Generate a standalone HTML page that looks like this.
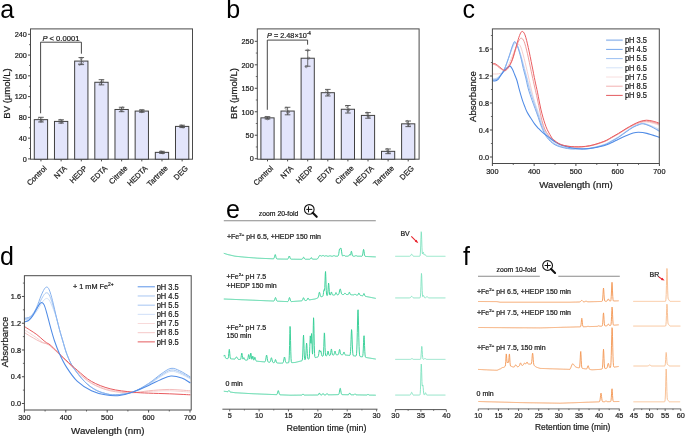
<!DOCTYPE html>
<html><head><meta charset="utf-8"><style>
html,body{margin:0;padding:0;background:#fff;overflow:hidden;width:685px;height:436px;}
svg{display:block;will-change:transform;}
text{font-family:"Liberation Sans", sans-serif;}
.sm{stroke:#1a1a1a;stroke-width:0.22px;}
</style></head><body>
<svg width="685" height="436" viewBox="0 0 685 436" font-family='"Liberation Sans", sans-serif'>
<rect x="0" y="0" width="685" height="436" fill="#fff"/>
<text x="0.3" y="17.7" font-size="25" text-anchor="start" fill="#000"  style="">a</text>
<text x="226.3" y="17.7" font-size="25" text-anchor="start" fill="#000"  style="">b</text>
<text x="462.6" y="17.8" font-size="25" text-anchor="start" fill="#000"  style="">c</text>
<text x="0" y="265.4" font-size="25" text-anchor="start" fill="#000"  style="">d</text>
<text x="226" y="217.9" font-size="25" text-anchor="start" fill="#000"  style="">e</text>
<text x="462.9" y="265.4" font-size="25" text-anchor="start" fill="#000"  style="">f</text>
<rect x="30.5" y="28.9" width="162" height="130.3" fill="none" stroke="#4a4a4a" stroke-width="1"/>
<line x1="28" y1="158.9" x2="30.5" y2="158.9" stroke="#4a4a4a" stroke-width="1" />
<text x="0" y="0" transform="translate(26.9 161.65) scale(1 1.1)" font-size="7.3" text-anchor="end" fill="#1e1e1e" class="sm"  style="">0</text>
<line x1="28" y1="138.13" x2="30.5" y2="138.13" stroke="#4a4a4a" stroke-width="1" />
<text x="0" y="0" transform="translate(26.9 140.88) scale(1 1.1)" font-size="7.3" text-anchor="end" fill="#1e1e1e" class="sm"  style="">40</text>
<line x1="28" y1="117.36" x2="30.5" y2="117.36" stroke="#4a4a4a" stroke-width="1" />
<text x="0" y="0" transform="translate(26.9 120.11) scale(1 1.1)" font-size="7.3" text-anchor="end" fill="#1e1e1e" class="sm"  style="">80</text>
<line x1="28" y1="96.6" x2="30.5" y2="96.6" stroke="#4a4a4a" stroke-width="1" />
<text x="0" y="0" transform="translate(26.9 99.35) scale(1 1.1)" font-size="7.3" text-anchor="end" fill="#1e1e1e" class="sm"  style="">120</text>
<line x1="28" y1="75.83" x2="30.5" y2="75.83" stroke="#4a4a4a" stroke-width="1" />
<text x="0" y="0" transform="translate(26.9 78.58) scale(1 1.1)" font-size="7.3" text-anchor="end" fill="#1e1e1e" class="sm"  style="">160</text>
<line x1="28" y1="55.06" x2="30.5" y2="55.06" stroke="#4a4a4a" stroke-width="1" />
<text x="0" y="0" transform="translate(26.9 57.81) scale(1 1.1)" font-size="7.3" text-anchor="end" fill="#1e1e1e" class="sm"  style="">200</text>
<line x1="28" y1="34.29" x2="30.5" y2="34.29" stroke="#4a4a4a" stroke-width="1" />
<text x="0" y="0" transform="translate(26.9 37.04) scale(1 1.1)" font-size="7.3" text-anchor="end" fill="#1e1e1e" class="sm"  style="">240</text>
<line x1="29" y1="148.52" x2="30.5" y2="148.52" stroke="#4a4a4a" stroke-width="0.8" />
<line x1="29" y1="127.75" x2="30.5" y2="127.75" stroke="#4a4a4a" stroke-width="0.8" />
<line x1="29" y1="106.98" x2="30.5" y2="106.98" stroke="#4a4a4a" stroke-width="0.8" />
<line x1="29" y1="86.21" x2="30.5" y2="86.21" stroke="#4a4a4a" stroke-width="0.8" />
<line x1="29" y1="65.44" x2="30.5" y2="65.44" stroke="#4a4a4a" stroke-width="0.8" />
<line x1="29" y1="44.68" x2="30.5" y2="44.68" stroke="#4a4a4a" stroke-width="0.8" />
<rect x="34.3" y="119.65" width="13.3" height="39.55" fill="#e3e5fb" stroke="#404040" stroke-width="1"/>
<line x1="40.95" y1="117.31" x2="40.95" y2="121.98" stroke="#3a3a3a" stroke-width="0.7" />
<line x1="38.15" y1="117.31" x2="43.75" y2="117.31" stroke="#3a3a3a" stroke-width="0.8" />
<line x1="38.15" y1="121.98" x2="43.75" y2="121.98" stroke="#3a3a3a" stroke-width="0.8" />
<circle cx="39.45" cy="118.61" r="1.1" fill="none" stroke="#555" stroke-width="0.55"/>
<circle cx="42.15" cy="120.17" r="1.1" fill="none" stroke="#555" stroke-width="0.55"/>
<circle cx="40.95" cy="121.21" r="1.1" fill="none" stroke="#555" stroke-width="0.55"/>
<line x1="40.95" y1="159.2" x2="40.95" y2="161.4" stroke="#4a4a4a" stroke-width="1" />
<text x="47.25" y="168.8" font-size="7.6" text-anchor="end" fill="#1e1e1e" class="sm" transform="rotate(-45 47.25 168.8)" style="">Control</text>
<rect x="54.47" y="121.41" width="13.3" height="37.79" fill="#e3e5fb" stroke="#404040" stroke-width="1"/>
<line x1="61.12" y1="119.75" x2="61.12" y2="123.08" stroke="#3a3a3a" stroke-width="0.7" />
<line x1="58.32" y1="119.75" x2="63.92" y2="119.75" stroke="#3a3a3a" stroke-width="0.8" />
<line x1="58.32" y1="123.08" x2="63.92" y2="123.08" stroke="#3a3a3a" stroke-width="0.8" />
<circle cx="60.12" cy="120.38" r="1.1" fill="none" stroke="#555" stroke-width="0.55"/>
<circle cx="62.12" cy="121.41" r="1.1" fill="none" stroke="#555" stroke-width="0.55"/>
<circle cx="61.12" cy="122.45" r="1.1" fill="none" stroke="#555" stroke-width="0.55"/>
<line x1="61.12" y1="159.2" x2="61.12" y2="161.4" stroke="#4a4a4a" stroke-width="1" />
<text x="67.42" y="168.8" font-size="7.6" text-anchor="end" fill="#1e1e1e" class="sm" transform="rotate(-45 67.42 168.8)" style="">NTA</text>
<rect x="74.64" y="61.08" width="13.3" height="98.12" fill="#e3e5fb" stroke="#404040" stroke-width="1"/>
<line x1="81.29" y1="57.55" x2="81.29" y2="64.61" stroke="#3a3a3a" stroke-width="0.7" />
<line x1="78.49" y1="57.55" x2="84.09" y2="57.55" stroke="#3a3a3a" stroke-width="0.8" />
<line x1="78.49" y1="64.61" x2="84.09" y2="64.61" stroke="#3a3a3a" stroke-width="0.8" />
<circle cx="79.59" cy="64.2" r="1.1" fill="none" stroke="#555" stroke-width="0.55"/>
<circle cx="81.29" cy="58.49" r="1.1" fill="none" stroke="#555" stroke-width="0.55"/>
<circle cx="82.29" cy="62.64" r="1.1" fill="none" stroke="#555" stroke-width="0.55"/>
<line x1="81.29" y1="159.2" x2="81.29" y2="161.4" stroke="#4a4a4a" stroke-width="1" />
<text x="87.59" y="168.8" font-size="7.6" text-anchor="end" fill="#1e1e1e" class="sm" transform="rotate(-45 87.59 168.8)" style="">HEDP</text>
<rect x="94.81" y="82.27" width="13.3" height="76.93" fill="#e3e5fb" stroke="#404040" stroke-width="1"/>
<line x1="101.46" y1="79.67" x2="101.46" y2="84.86" stroke="#3a3a3a" stroke-width="0.7" />
<line x1="98.66" y1="79.67" x2="104.26" y2="79.67" stroke="#3a3a3a" stroke-width="0.8" />
<line x1="98.66" y1="84.86" x2="104.26" y2="84.86" stroke="#3a3a3a" stroke-width="0.8" />
<circle cx="100.46" cy="83.82" r="1.1" fill="none" stroke="#555" stroke-width="0.55"/>
<circle cx="102.46" cy="81.23" r="1.1" fill="none" stroke="#555" stroke-width="0.55"/>
<circle cx="101.46" cy="82.27" r="1.1" fill="none" stroke="#555" stroke-width="0.55"/>
<line x1="101.46" y1="159.2" x2="101.46" y2="161.4" stroke="#4a4a4a" stroke-width="1" />
<text x="107.76" y="168.8" font-size="7.6" text-anchor="end" fill="#1e1e1e" class="sm" transform="rotate(-45 107.76 168.8)" style="">EDTA</text>
<rect x="114.98" y="109.47" width="13.3" height="49.73" fill="#e3e5fb" stroke="#404040" stroke-width="1"/>
<line x1="121.63" y1="107.24" x2="121.63" y2="111.7" stroke="#3a3a3a" stroke-width="0.7" />
<line x1="118.83" y1="107.24" x2="124.43" y2="107.24" stroke="#3a3a3a" stroke-width="0.8" />
<line x1="118.83" y1="111.7" x2="124.43" y2="111.7" stroke="#3a3a3a" stroke-width="0.8" />
<circle cx="120.63" cy="108.95" r="1.1" fill="none" stroke="#555" stroke-width="0.55"/>
<circle cx="122.63" cy="107.91" r="1.1" fill="none" stroke="#555" stroke-width="0.55"/>
<circle cx="121.63" cy="110.51" r="1.1" fill="none" stroke="#555" stroke-width="0.55"/>
<line x1="121.63" y1="159.2" x2="121.63" y2="161.4" stroke="#4a4a4a" stroke-width="1" />
<text x="127.93" y="168.8" font-size="7.6" text-anchor="end" fill="#1e1e1e" class="sm" transform="rotate(-45 127.93 168.8)" style="">Citrate</text>
<rect x="135.15" y="111.08" width="13.3" height="48.12" fill="#e3e5fb" stroke="#404040" stroke-width="1"/>
<line x1="141.8" y1="109.94" x2="141.8" y2="112.22" stroke="#3a3a3a" stroke-width="0.7" />
<line x1="139" y1="109.94" x2="144.6" y2="109.94" stroke="#3a3a3a" stroke-width="0.8" />
<line x1="139" y1="112.22" x2="144.6" y2="112.22" stroke="#3a3a3a" stroke-width="0.8" />
<circle cx="140.8" cy="110.56" r="1.1" fill="none" stroke="#555" stroke-width="0.55"/>
<circle cx="142.8" cy="110.56" r="1.1" fill="none" stroke="#555" stroke-width="0.55"/>
<circle cx="141.8" cy="111.6" r="1.1" fill="none" stroke="#555" stroke-width="0.55"/>
<line x1="141.8" y1="159.2" x2="141.8" y2="161.4" stroke="#4a4a4a" stroke-width="1" />
<text x="148.1" y="168.8" font-size="7.6" text-anchor="end" fill="#1e1e1e" class="sm" transform="rotate(-45 148.1 168.8)" style="">HEDTA</text>
<rect x="155.32" y="152.36" width="13.3" height="6.84" fill="#e3e5fb" stroke="#404040" stroke-width="1"/>
<line x1="161.97" y1="151.32" x2="161.97" y2="153.4" stroke="#3a3a3a" stroke-width="0.7" />
<line x1="159.17" y1="151.32" x2="164.77" y2="151.32" stroke="#3a3a3a" stroke-width="0.8" />
<line x1="159.17" y1="153.4" x2="164.77" y2="153.4" stroke="#3a3a3a" stroke-width="0.8" />
<circle cx="160.97" cy="151.84" r="1.1" fill="none" stroke="#555" stroke-width="0.55"/>
<circle cx="162.97" cy="152.88" r="1.1" fill="none" stroke="#555" stroke-width="0.55"/>
<circle cx="161.97" cy="152.36" r="1.1" fill="none" stroke="#555" stroke-width="0.55"/>
<line x1="161.97" y1="159.2" x2="161.97" y2="161.4" stroke="#4a4a4a" stroke-width="1" />
<text x="168.27" y="168.8" font-size="7.6" text-anchor="end" fill="#1e1e1e" class="sm" transform="rotate(-45 168.27 168.8)" style="">Tartrate</text>
<rect x="175.49" y="126.4" width="13.3" height="32.8" fill="#e3e5fb" stroke="#404040" stroke-width="1"/>
<line x1="182.14" y1="125.2" x2="182.14" y2="127.59" stroke="#3a3a3a" stroke-width="0.7" />
<line x1="179.34" y1="125.2" x2="184.94" y2="125.2" stroke="#3a3a3a" stroke-width="0.8" />
<line x1="179.34" y1="127.59" x2="184.94" y2="127.59" stroke="#3a3a3a" stroke-width="0.8" />
<circle cx="181.14" cy="125.88" r="1.1" fill="none" stroke="#555" stroke-width="0.55"/>
<circle cx="183.14" cy="126.92" r="1.1" fill="none" stroke="#555" stroke-width="0.55"/>
<circle cx="182.14" cy="126.4" r="1.1" fill="none" stroke="#555" stroke-width="0.55"/>
<line x1="182.14" y1="159.2" x2="182.14" y2="161.4" stroke="#4a4a4a" stroke-width="1" />
<text x="188.44" y="168.8" font-size="7.6" text-anchor="end" fill="#1e1e1e" class="sm" transform="rotate(-45 188.44 168.8)" style="">DEG</text>
<text class="sm" x="10.3" y="93.5" font-size="9.5" text-anchor="middle" fill="#1e1e1e" transform="rotate(-90 10.3 93.5)">BV (μmol/L)</text>
<polyline points="40.6,113.3 40.6,42.2 81.4,42.2 81.4,53.7" fill="none" stroke="#333" stroke-width="0.9"/>
<text class="sm" x="42.4" y="40.7" font-size="7.6" fill="#1e1e1e"><tspan font-style="italic">P</tspan> &lt; 0.0001</text>
<rect x="257.3" y="28.9" width="161.8" height="130.3" fill="none" stroke="#4a4a4a" stroke-width="1"/>
<line x1="254.8" y1="158.7" x2="257.3" y2="158.7" stroke="#4a4a4a" stroke-width="1" />
<text x="0" y="0" transform="translate(253.7 161.45) scale(1 1.1)" font-size="7.3" text-anchor="end" fill="#1e1e1e" class="sm"  style="">0</text>
<line x1="254.8" y1="135.22" x2="257.3" y2="135.22" stroke="#4a4a4a" stroke-width="1" />
<text x="0" y="0" transform="translate(253.7 137.97) scale(1 1.1)" font-size="7.3" text-anchor="end" fill="#1e1e1e" class="sm"  style="">50</text>
<line x1="254.8" y1="111.75" x2="257.3" y2="111.75" stroke="#4a4a4a" stroke-width="1" />
<text x="0" y="0" transform="translate(253.7 114.5) scale(1 1.1)" font-size="7.3" text-anchor="end" fill="#1e1e1e" class="sm"  style="">100</text>
<line x1="254.8" y1="88.27" x2="257.3" y2="88.27" stroke="#4a4a4a" stroke-width="1" />
<text x="0" y="0" transform="translate(253.7 91.02) scale(1 1.1)" font-size="7.3" text-anchor="end" fill="#1e1e1e" class="sm"  style="">150</text>
<line x1="254.8" y1="64.8" x2="257.3" y2="64.8" stroke="#4a4a4a" stroke-width="1" />
<text x="0" y="0" transform="translate(253.7 67.55) scale(1 1.1)" font-size="7.3" text-anchor="end" fill="#1e1e1e" class="sm"  style="">200</text>
<line x1="254.8" y1="41.32" x2="257.3" y2="41.32" stroke="#4a4a4a" stroke-width="1" />
<text x="0" y="0" transform="translate(253.7 44.07) scale(1 1.1)" font-size="7.3" text-anchor="end" fill="#1e1e1e" class="sm"  style="">250</text>
<line x1="255.8" y1="146.96" x2="257.3" y2="146.96" stroke="#4a4a4a" stroke-width="0.8" />
<line x1="255.8" y1="123.49" x2="257.3" y2="123.49" stroke="#4a4a4a" stroke-width="0.8" />
<line x1="255.8" y1="100.01" x2="257.3" y2="100.01" stroke="#4a4a4a" stroke-width="0.8" />
<line x1="255.8" y1="76.54" x2="257.3" y2="76.54" stroke="#4a4a4a" stroke-width="0.8" />
<line x1="255.8" y1="53.06" x2="257.3" y2="53.06" stroke="#4a4a4a" stroke-width="0.8" />
<rect x="260.9" y="117.85" width="13.2" height="41.35" fill="#e3e5fb" stroke="#404040" stroke-width="1"/>
<line x1="267.5" y1="116.68" x2="267.5" y2="119.03" stroke="#3a3a3a" stroke-width="0.7" />
<line x1="264.7" y1="116.68" x2="270.3" y2="116.68" stroke="#3a3a3a" stroke-width="0.8" />
<line x1="264.7" y1="119.03" x2="270.3" y2="119.03" stroke="#3a3a3a" stroke-width="0.8" />
<circle cx="266" cy="117.38" r="1.1" fill="none" stroke="#555" stroke-width="0.55"/>
<circle cx="268.5" cy="117.85" r="1.1" fill="none" stroke="#555" stroke-width="0.55"/>
<circle cx="267.5" cy="118.79" r="1.1" fill="none" stroke="#555" stroke-width="0.55"/>
<line x1="267.5" y1="159.2" x2="267.5" y2="161.4" stroke="#4a4a4a" stroke-width="1" />
<text x="273.8" y="168.8" font-size="7.6" text-anchor="end" fill="#1e1e1e" class="sm" transform="rotate(-45 273.8 168.8)" style="">Control</text>
<rect x="281" y="111.05" width="13.2" height="48.15" fill="#e3e5fb" stroke="#404040" stroke-width="1"/>
<line x1="287.6" y1="107.29" x2="287.6" y2="114.8" stroke="#3a3a3a" stroke-width="0.7" />
<line x1="284.8" y1="107.29" x2="290.4" y2="107.29" stroke="#3a3a3a" stroke-width="0.8" />
<line x1="284.8" y1="114.8" x2="290.4" y2="114.8" stroke="#3a3a3a" stroke-width="0.8" />
<circle cx="286.1" cy="108.23" r="1.1" fill="none" stroke="#555" stroke-width="0.55"/>
<circle cx="288.6" cy="111.98" r="1.1" fill="none" stroke="#555" stroke-width="0.55"/>
<circle cx="287.6" cy="112.45" r="1.1" fill="none" stroke="#555" stroke-width="0.55"/>
<line x1="287.6" y1="159.2" x2="287.6" y2="161.4" stroke="#4a4a4a" stroke-width="1" />
<text x="293.9" y="168.8" font-size="7.6" text-anchor="end" fill="#1e1e1e" class="sm" transform="rotate(-45 293.9 168.8)" style="">NTA</text>
<rect x="301.1" y="58.23" width="13.2" height="100.97" fill="#e3e5fb" stroke="#404040" stroke-width="1"/>
<line x1="307.7" y1="50.25" x2="307.7" y2="66.21" stroke="#3a3a3a" stroke-width="0.7" />
<line x1="304.9" y1="50.25" x2="310.5" y2="50.25" stroke="#3a3a3a" stroke-width="0.8" />
<line x1="304.9" y1="66.21" x2="310.5" y2="66.21" stroke="#3a3a3a" stroke-width="0.8" />
<circle cx="306.2" cy="66.68" r="1.1" fill="none" stroke="#555" stroke-width="0.55"/>
<circle cx="307.7" cy="50.25" r="1.1" fill="none" stroke="#555" stroke-width="0.55"/>
<circle cx="308.7" cy="58.23" r="1.1" fill="none" stroke="#555" stroke-width="0.55"/>
<line x1="307.7" y1="159.2" x2="307.7" y2="161.4" stroke="#4a4a4a" stroke-width="1" />
<text x="314" y="168.8" font-size="7.6" text-anchor="end" fill="#1e1e1e" class="sm" transform="rotate(-45 314 168.8)" style="">HEDP</text>
<rect x="321.2" y="92.69" width="13.2" height="66.51" fill="#e3e5fb" stroke="#404040" stroke-width="1"/>
<line x1="327.8" y1="89.4" x2="327.8" y2="95.97" stroke="#3a3a3a" stroke-width="0.7" />
<line x1="325" y1="89.4" x2="330.6" y2="89.4" stroke="#3a3a3a" stroke-width="0.8" />
<line x1="325" y1="95.97" x2="330.6" y2="95.97" stroke="#3a3a3a" stroke-width="0.8" />
<circle cx="326.8" cy="91.28" r="1.1" fill="none" stroke="#555" stroke-width="0.55"/>
<circle cx="328.8" cy="93.63" r="1.1" fill="none" stroke="#555" stroke-width="0.55"/>
<circle cx="327.8" cy="94.57" r="1.1" fill="none" stroke="#555" stroke-width="0.55"/>
<line x1="327.8" y1="159.2" x2="327.8" y2="161.4" stroke="#4a4a4a" stroke-width="1" />
<text x="334.1" y="168.8" font-size="7.6" text-anchor="end" fill="#1e1e1e" class="sm" transform="rotate(-45 334.1 168.8)" style="">EDTA</text>
<rect x="341.3" y="109.26" width="13.2" height="49.94" fill="#e3e5fb" stroke="#404040" stroke-width="1"/>
<line x1="347.9" y1="105.51" x2="347.9" y2="113.02" stroke="#3a3a3a" stroke-width="0.7" />
<line x1="345.1" y1="105.51" x2="350.7" y2="105.51" stroke="#3a3a3a" stroke-width="0.8" />
<line x1="345.1" y1="113.02" x2="350.7" y2="113.02" stroke="#3a3a3a" stroke-width="0.8" />
<circle cx="346.9" cy="106.44" r="1.1" fill="none" stroke="#555" stroke-width="0.55"/>
<circle cx="348.9" cy="109.73" r="1.1" fill="none" stroke="#555" stroke-width="0.55"/>
<circle cx="347.9" cy="110.67" r="1.1" fill="none" stroke="#555" stroke-width="0.55"/>
<line x1="347.9" y1="159.2" x2="347.9" y2="161.4" stroke="#4a4a4a" stroke-width="1" />
<text x="354.2" y="168.8" font-size="7.6" text-anchor="end" fill="#1e1e1e" class="sm" transform="rotate(-45 354.2 168.8)" style="">Citrate</text>
<rect x="361.4" y="115.41" width="13.2" height="43.79" fill="#e3e5fb" stroke="#404040" stroke-width="1"/>
<line x1="368" y1="112.6" x2="368" y2="118.23" stroke="#3a3a3a" stroke-width="0.7" />
<line x1="365.2" y1="112.6" x2="370.8" y2="112.6" stroke="#3a3a3a" stroke-width="0.8" />
<line x1="365.2" y1="118.23" x2="370.8" y2="118.23" stroke="#3a3a3a" stroke-width="0.8" />
<circle cx="367" cy="113.06" r="1.1" fill="none" stroke="#555" stroke-width="0.55"/>
<circle cx="369" cy="116.82" r="1.1" fill="none" stroke="#555" stroke-width="0.55"/>
<circle cx="368" cy="115.88" r="1.1" fill="none" stroke="#555" stroke-width="0.55"/>
<line x1="368" y1="159.2" x2="368" y2="161.4" stroke="#4a4a4a" stroke-width="1" />
<text x="374.3" y="168.8" font-size="7.6" text-anchor="end" fill="#1e1e1e" class="sm" transform="rotate(-45 374.3 168.8)" style="">HEDTA</text>
<rect x="381.5" y="151.33" width="13.2" height="7.87" fill="#e3e5fb" stroke="#404040" stroke-width="1"/>
<line x1="388.1" y1="148.98" x2="388.1" y2="153.68" stroke="#3a3a3a" stroke-width="0.7" />
<line x1="385.3" y1="148.98" x2="390.9" y2="148.98" stroke="#3a3a3a" stroke-width="0.8" />
<line x1="385.3" y1="153.68" x2="390.9" y2="153.68" stroke="#3a3a3a" stroke-width="0.8" />
<circle cx="387.1" cy="149.45" r="1.1" fill="none" stroke="#555" stroke-width="0.55"/>
<circle cx="389.1" cy="152.27" r="1.1" fill="none" stroke="#555" stroke-width="0.55"/>
<circle cx="388.1" cy="151.8" r="1.1" fill="none" stroke="#555" stroke-width="0.55"/>
<line x1="388.1" y1="159.2" x2="388.1" y2="161.4" stroke="#4a4a4a" stroke-width="1" />
<text x="394.4" y="168.8" font-size="7.6" text-anchor="end" fill="#1e1e1e" class="sm" transform="rotate(-45 394.4 168.8)" style="">Tartrate</text>
<rect x="401.6" y="123.82" width="13.2" height="35.38" fill="#e3e5fb" stroke="#404040" stroke-width="1"/>
<line x1="408.2" y1="121" x2="408.2" y2="126.63" stroke="#3a3a3a" stroke-width="0.7" />
<line x1="405.4" y1="121" x2="411" y2="121" stroke="#3a3a3a" stroke-width="0.8" />
<line x1="405.4" y1="126.63" x2="411" y2="126.63" stroke="#3a3a3a" stroke-width="0.8" />
<circle cx="407.2" cy="121.47" r="1.1" fill="none" stroke="#555" stroke-width="0.55"/>
<circle cx="409.2" cy="125.22" r="1.1" fill="none" stroke="#555" stroke-width="0.55"/>
<circle cx="408.2" cy="124.29" r="1.1" fill="none" stroke="#555" stroke-width="0.55"/>
<line x1="408.2" y1="159.2" x2="408.2" y2="161.4" stroke="#4a4a4a" stroke-width="1" />
<text x="414.5" y="168.8" font-size="7.6" text-anchor="end" fill="#1e1e1e" class="sm" transform="rotate(-45 414.5 168.8)" style="">DEG</text>
<text class="sm" x="237.4" y="93.5" font-size="9.5" text-anchor="middle" fill="#1e1e1e" transform="rotate(-90 237.4 93.5)">BR (μmol/L)</text>
<polyline points="267.3,109.8 267.3,40.1 307.6,40.1 307.6,44.7" fill="none" stroke="#333" stroke-width="0.9"/>
<text class="sm" x="267" y="37.8" font-size="7.3" fill="#1e1e1e"><tspan font-style="italic">P</tspan> = 2.48×10<tspan font-size="4.6" dy="-3">-4</tspan></text>
<path d="M492.4,73.97C493.1,73.97 495.18,74.09 496.57,73.97C497.97,73.86 499.36,73.86 500.75,73.3C502.14,72.74 503.53,72.17 504.92,70.6C506.32,69.02 507.71,66.66 509.1,63.85C510.49,61.04 512.09,56.54 513.27,53.72C514.46,50.91 515.36,48.55 516.2,46.98C517.03,45.4 517.52,44.28 518.28,44.28C519.05,44.28 519.82,44.61 520.79,46.98C521.76,49.34 522.88,53.61 524.13,58.45C525.38,63.29 526.91,70.04 528.3,76C529.7,81.96 531.16,88.82 532.48,94.22C533.8,99.62 535.05,104.12 536.24,108.4C537.42,112.68 538.39,116.5 539.58,119.88C540.76,123.25 542.01,126.06 543.33,128.65C544.66,131.24 545.77,133.26 547.51,135.4C549.25,137.54 551.13,139.79 553.77,141.47C556.42,143.16 559.9,144.59 563.38,145.53C566.85,146.46 570.33,146.96 574.65,147.08C578.96,147.19 584.39,147.04 589.26,146.2C594.13,145.36 600.18,143.36 603.87,142.01C607.56,140.66 608.95,139.43 611.39,138.1C613.82,136.77 616.05,135.51 618.49,134.05C620.92,132.59 623.56,130.73 626,129.32C628.44,127.92 630.8,126.68 633.1,125.61C635.39,124.54 637.62,123.53 639.78,122.91C641.93,122.29 643.81,121.84 646.04,121.9C648.27,121.96 650.91,122.69 653.14,123.25C655.36,123.81 658.36,124.94 659.4,125.28" stroke="#f6cfcf" stroke-width="1.0" fill="none" stroke-linejoin="round" stroke-linecap="round" />
<path d="M492.4,78.36C492.82,78.42 494,78.87 494.9,78.7C495.81,78.53 496.85,78.08 497.83,77.35C498.8,76.62 499.71,75.66 500.75,74.31C501.79,72.96 503.05,71.22 504.09,69.25C505.13,67.28 506.04,64.97 507.01,62.5C507.99,60.02 508.96,56.99 509.94,54.4C510.91,51.81 511.95,48.89 512.86,46.98C513.76,45.06 514.6,43.15 515.36,42.92C516.13,42.7 516.75,44.27 517.45,45.62C518.15,46.98 518.77,48.77 519.54,51.02C520.3,53.27 521.21,56.2 522.04,59.12C522.88,62.05 523.71,65.42 524.55,68.58C525.38,71.73 526.22,74.99 527.05,78.03C527.89,81.06 528.79,84.21 529.56,86.8C530.32,89.39 530.95,91.41 531.64,93.55C532.34,95.69 532.9,97.26 533.73,99.62C534.57,101.99 535.61,104.8 536.65,107.72C537.7,110.65 538.88,114.03 540,117.18C541.11,120.33 541.94,123.36 543.33,126.62C544.73,129.89 546.4,133.88 548.35,136.75C550.29,139.62 551.82,141.98 555.02,143.84C558.23,145.69 563.72,147.12 567.55,147.89C571.38,148.65 574.37,148.37 577.99,148.43C581.61,148.48 584.95,148.88 589.26,148.22C593.57,147.57 600.18,145.75 603.87,144.51C607.56,143.27 608.95,142.09 611.39,140.8C613.82,139.51 616.05,138.32 618.49,136.75C620.92,135.18 623.56,133.04 626,131.35C628.44,129.66 630.87,127.86 633.1,126.62C635.32,125.39 637.62,124.49 639.36,123.92C641.1,123.36 641.59,122.97 643.53,123.25C645.48,123.53 648.41,124.6 651.05,125.61C653.69,126.62 658.01,128.71 659.4,129.32" stroke="#cfe0f8" stroke-width="1.0" fill="none" stroke-linejoin="round" stroke-linecap="round" />
<path d="M492.4,79.04C492.82,79.09 494,79.54 494.9,79.38C495.81,79.21 496.85,78.76 497.83,78.03C498.8,77.29 499.71,76.34 500.75,74.99C501.79,73.64 503.05,72.01 504.09,69.92C505.13,67.84 506.04,65.14 507.01,62.5C507.99,59.86 509.03,56.76 509.94,54.06C510.84,51.36 511.6,48.27 512.44,46.3C513.27,44.33 514.18,42.48 514.94,42.25C515.71,42.02 516.34,43.6 517.03,44.95C517.73,46.3 518.35,47.99 519.12,50.35C519.89,52.71 520.79,56.09 521.62,59.12C522.46,62.16 523.29,65.42 524.13,68.58C524.97,71.73 525.87,74.99 526.63,78.03C527.4,81.06 528.03,84.21 528.72,86.8C529.42,89.39 530.11,91.41 530.81,93.55C531.51,95.69 532.06,97.21 532.9,99.62C533.73,102.04 534.78,105.08 535.82,108.06C536.86,111.04 538.05,114.31 539.16,117.51C540.27,120.72 541.11,124.04 542.5,127.3C543.89,130.56 545.42,134.28 547.51,137.09C549.6,139.9 551.68,142.32 555.02,144.18C558.37,146.03 563.72,147.48 567.55,148.22C571.38,148.97 574.37,148.6 577.99,148.63C581.61,148.66 584.95,149.06 589.26,148.43C593.57,147.8 600.18,146.06 603.87,144.85C607.56,143.63 608.95,142.44 611.39,141.14C613.82,139.83 616.05,138.59 618.49,137.02C620.92,135.45 623.56,133.36 626,131.69C628.44,130.01 630.87,128.2 633.1,126.96C635.32,125.73 637.62,124.83 639.36,124.26C641.1,123.7 641.59,123.25 643.53,123.59C645.48,123.93 648.41,125.11 651.05,126.29C653.69,127.47 658.01,129.94 659.4,130.68" stroke="#a9c8f3" stroke-width="1.0" fill="none" stroke-linejoin="round" stroke-linecap="round" />
<path d="M492.4,79.71C492.82,79.77 494,80.22 494.9,80.05C495.81,79.88 496.85,79.49 497.83,78.7C498.8,77.91 499.71,76.73 500.75,75.33C501.79,73.92 503.05,72.4 504.09,70.26C505.13,68.12 506.04,65.26 507.01,62.5C507.99,59.74 509.03,56.48 509.94,53.72C510.84,50.97 511.67,47.99 512.44,45.96C513.21,43.94 513.83,41.86 514.53,41.58C515.22,41.29 515.92,42.87 516.62,44.28C517.31,45.68 517.94,47.54 518.7,50.01C519.47,52.49 520.44,56.03 521.21,59.12C521.97,62.22 522.53,65.42 523.29,68.58C524.06,71.73 525.03,74.88 525.8,78.03C526.57,81.18 527.19,84.77 527.89,87.47C528.58,90.17 529.28,92.09 529.98,94.22C530.67,96.36 531.23,97.94 532.06,100.3C532.9,102.66 533.94,105.53 534.99,108.4C536.03,111.27 537.21,114.36 538.32,117.51C539.44,120.66 540.27,124.04 541.66,127.3C543.06,130.56 544.45,134.16 546.67,137.09C548.9,140.01 551.55,142.94 555.02,144.85C558.5,146.76 563.72,147.89 567.55,148.56C571.38,149.24 574.37,148.88 577.99,148.9C581.61,148.92 584.95,149.33 589.26,148.7C593.57,148.07 600.18,146.32 603.87,145.12C607.56,143.92 608.95,142.76 611.39,141.47C613.82,140.19 616.05,139 618.49,137.43C620.92,135.85 623.56,133.71 626,132.03C628.44,130.34 630.87,128.54 633.1,127.3C635.32,126.06 637.62,125.16 639.36,124.6C641.1,124.04 641.59,123.59 643.53,123.92C645.48,124.26 648.41,125.39 651.05,126.62C653.69,127.86 658.01,130.56 659.4,131.35" stroke="#7eacee" stroke-width="1.0" fill="none" stroke-linejoin="round" stroke-linecap="round" />
<path d="M492.4,64.52C492.82,64.55 494.07,64.38 494.9,64.66C495.74,64.94 496.57,65.62 497.41,66.21C498.24,66.81 499.08,67.62 499.91,68.24C500.75,68.86 501.72,69.47 502.42,69.92C503.12,70.38 503.46,70.88 504.09,70.94C504.72,70.99 505.34,70.94 506.18,70.26C507.01,69.59 508.06,68.63 509.1,66.89C510.14,65.14 511.26,63.01 512.44,59.8C513.62,56.59 515.15,50.8 516.2,47.65C517.24,44.5 517.87,42.48 518.7,40.9C519.54,39.33 520.3,38.09 521.21,38.2C522.11,38.31 523.09,38.99 524.13,41.58C525.17,44.16 526.29,48.77 527.47,53.72C528.65,58.67 530.11,66.1 531.23,71.28C532.34,76.45 533.25,80.72 534.15,84.77C535.05,88.82 535.89,92.09 536.65,95.57C537.42,99.06 538.05,102.33 538.74,105.7C539.44,109.08 540.06,112.56 540.83,115.83C541.6,119.09 542.36,122.46 543.33,125.28C544.31,128.09 545.07,130.22 546.67,132.7C548.28,135.17 550.43,138.1 552.94,140.12C555.44,142.15 558.09,143.72 561.7,144.85C565.32,145.97 570.06,146.69 574.65,146.88C579.24,147.06 584.39,146.81 589.26,145.93C594.13,145.05 600.18,142.98 603.87,141.61C607.56,140.24 608.95,139.01 611.39,137.69C613.82,136.38 616.05,135.16 618.49,133.71C620.92,132.26 623.56,130.43 626,128.99C628.44,127.55 630.8,126.2 633.1,125.07C635.39,123.95 637.55,122.9 639.78,122.24C642,121.57 644.23,121.09 646.46,121.09C648.68,121.09 650.98,121.71 653.14,122.24C655.29,122.77 658.36,123.92 659.4,124.26" stroke="#ef9c9c" stroke-width="1.0" fill="none" stroke-linejoin="round" stroke-linecap="round" />
<path d="M492.4,80.73C492.82,80.78 494,81.23 494.9,81.06C495.81,80.89 496.85,80.67 497.83,79.71C498.8,78.76 499.57,76.96 500.75,75.33C501.93,73.69 503.67,71.33 504.92,69.92C506.18,68.52 507.36,67.51 508.26,66.89C509.17,66.27 509.66,65.82 510.35,66.21C511.05,66.61 511.74,67.9 512.44,69.25C513.14,70.6 513.76,72.4 514.53,74.31C515.29,76.22 516.34,78.53 517.03,80.73C517.73,82.92 518.08,85.11 518.7,87.47C519.33,89.84 520.16,92.76 520.79,94.9C521.42,97.04 521.83,98.46 522.46,100.3C523.09,102.15 523.78,104 524.55,105.97C525.31,107.94 526.08,110.19 527.05,112.11C528.03,114.04 529.14,115.54 530.39,117.51C531.64,119.48 533.25,122.12 534.57,123.92C535.89,125.72 537,126.91 538.32,128.31C539.65,129.72 540.69,130.84 542.5,132.36C544.31,133.88 547.09,135.85 549.18,137.43C551.27,139 552.94,140.52 555.02,141.81C557.11,143.11 558.3,144.06 561.7,145.19C565.11,146.31 570.89,148 575.48,148.56C580.07,149.12 584.53,149.02 589.26,148.56C593.99,148.1 600.18,146.75 603.87,145.79C607.56,144.84 608.95,143.93 611.39,142.82C613.82,141.72 616.05,140.36 618.49,139.18C620.92,138 623.56,136.76 626,135.74C628.44,134.71 631.01,133.62 633.1,133.04C635.18,132.45 636.23,132.17 638.52,132.23C640.82,132.28 643.4,132.51 646.88,133.38C650.35,134.24 657.31,136.75 659.4,137.43" stroke="#4f8be6" stroke-width="1.05" fill="none" stroke-linejoin="round" stroke-linecap="round" />
<path d="M492.4,63.51C492.82,63.54 494.07,63.37 494.9,63.65C495.74,63.93 496.57,64.6 497.41,65.2C498.24,65.8 499.08,66.55 499.91,67.22C500.75,67.9 501.72,68.74 502.42,69.25C503.12,69.76 503.46,70.21 504.09,70.26C504.72,70.32 505.34,70.32 506.18,69.59C507.01,68.86 508.06,67.62 509.1,65.88C510.14,64.13 511.19,62.61 512.44,59.12C513.69,55.64 515.43,48.89 516.62,44.95C517.8,41.01 518.63,37.75 519.54,35.5C520.44,33.25 521.14,31.56 522.04,31.45C522.95,31.34 523.92,32.12 524.96,34.83C526.01,37.53 527.12,42.47 528.3,47.65C529.49,52.82 530.95,60.36 532.06,65.88C533.18,71.39 534.08,76.34 534.99,80.73C535.89,85.11 536.79,88.83 537.49,92.2C538.19,95.58 538.6,98.16 539.16,100.97C539.72,103.79 540.2,106.38 540.83,109.08C541.46,111.78 542.22,114.7 542.92,117.18C543.61,119.65 544.31,121.9 545,123.92C545.7,125.95 546.26,127.52 547.09,129.32C547.93,131.12 548.97,133.04 550.01,134.72C551.06,136.41 551.41,137.76 553.36,139.45C555.3,141.14 558.16,143.62 561.7,144.85C565.25,146.08 570.06,146.65 574.65,146.81C579.24,146.97 584.39,146.69 589.26,145.79C594.13,144.89 600.18,142.8 603.87,141.41C607.56,140.01 608.95,138.76 611.39,137.43C613.82,136.09 616.05,134.84 618.49,133.38C620.92,131.91 623.56,130.11 626,128.65C628.44,127.19 630.8,125.78 633.1,124.6C635.39,123.42 637.55,122.29 639.78,121.56C642,120.83 644.23,120.27 646.46,120.21C648.68,120.16 650.98,120.72 653.14,121.22C655.29,121.73 658.36,122.91 659.4,123.25" stroke="#ea5c60" stroke-width="1.0" fill="none" stroke-linejoin="round" stroke-linecap="round" />
<rect x="492.4" y="28.9" width="166.9" height="134.6" fill="none" stroke="#4a4a4a" stroke-width="1"/>
<line x1="489.9" y1="157" x2="492.4" y2="157" stroke="#4a4a4a" stroke-width="1" />
<text x="0" y="0" transform="translate(489 159.75) scale(1 1.1)" font-size="7.3" text-anchor="end" fill="#1e1e1e" class="sm"  style="">0.0</text>
<line x1="489.9" y1="130" x2="492.4" y2="130" stroke="#4a4a4a" stroke-width="1" />
<text x="0" y="0" transform="translate(489 132.75) scale(1 1.1)" font-size="7.3" text-anchor="end" fill="#1e1e1e" class="sm"  style="">0.4</text>
<line x1="489.9" y1="103" x2="492.4" y2="103" stroke="#4a4a4a" stroke-width="1" />
<text x="0" y="0" transform="translate(489 105.75) scale(1 1.1)" font-size="7.3" text-anchor="end" fill="#1e1e1e" class="sm"  style="">0.8</text>
<line x1="489.9" y1="76" x2="492.4" y2="76" stroke="#4a4a4a" stroke-width="1" />
<text x="0" y="0" transform="translate(489 78.75) scale(1 1.1)" font-size="7.3" text-anchor="end" fill="#1e1e1e" class="sm"  style="">1.2</text>
<line x1="489.9" y1="49" x2="492.4" y2="49" stroke="#4a4a4a" stroke-width="1" />
<text x="0" y="0" transform="translate(489 51.75) scale(1 1.1)" font-size="7.3" text-anchor="end" fill="#1e1e1e" class="sm"  style="">1.6</text>
<line x1="490.9" y1="143.5" x2="492.4" y2="143.5" stroke="#4a4a4a" stroke-width="0.8" />
<line x1="490.9" y1="116.5" x2="492.4" y2="116.5" stroke="#4a4a4a" stroke-width="0.8" />
<line x1="490.9" y1="89.5" x2="492.4" y2="89.5" stroke="#4a4a4a" stroke-width="0.8" />
<line x1="490.9" y1="62.5" x2="492.4" y2="62.5" stroke="#4a4a4a" stroke-width="0.8" />
<line x1="490.9" y1="35.5" x2="492.4" y2="35.5" stroke="#4a4a4a" stroke-width="0.8" />
<line x1="492.4" y1="163.5" x2="492.4" y2="166" stroke="#4a4a4a" stroke-width="1" />
<text x="0" y="0" transform="translate(492.4 173.7) scale(1 1.1)" font-size="7.3" text-anchor="middle" fill="#1e1e1e" class="sm"  style="">300</text>
<line x1="534.15" y1="163.5" x2="534.15" y2="166" stroke="#4a4a4a" stroke-width="1" />
<text x="0" y="0" transform="translate(534.15 173.7) scale(1 1.1)" font-size="7.3" text-anchor="middle" fill="#1e1e1e" class="sm"  style="">400</text>
<line x1="575.9" y1="163.5" x2="575.9" y2="166" stroke="#4a4a4a" stroke-width="1" />
<text x="0" y="0" transform="translate(575.9 173.7) scale(1 1.1)" font-size="7.3" text-anchor="middle" fill="#1e1e1e" class="sm"  style="">500</text>
<line x1="617.65" y1="163.5" x2="617.65" y2="166" stroke="#4a4a4a" stroke-width="1" />
<text x="0" y="0" transform="translate(617.65 173.7) scale(1 1.1)" font-size="7.3" text-anchor="middle" fill="#1e1e1e" class="sm"  style="">600</text>
<line x1="659.4" y1="163.5" x2="659.4" y2="166" stroke="#4a4a4a" stroke-width="1" />
<text x="0" y="0" transform="translate(659.4 173.7) scale(1 1.1)" font-size="7.3" text-anchor="middle" fill="#1e1e1e" class="sm"  style="">700</text>
<line x1="513.27" y1="163.5" x2="513.27" y2="165" stroke="#4a4a4a" stroke-width="0.8" />
<line x1="555.02" y1="163.5" x2="555.02" y2="165" stroke="#4a4a4a" stroke-width="0.8" />
<line x1="596.77" y1="163.5" x2="596.77" y2="165" stroke="#4a4a4a" stroke-width="0.8" />
<line x1="638.52" y1="163.5" x2="638.52" y2="165" stroke="#4a4a4a" stroke-width="0.8" />
<text x="576" y="187.8" font-size="9.7" text-anchor="middle" fill="#1e1e1e" class="sm"  style="">Wavelength (nm)</text>
<text class="sm" x="476" y="96.6" font-size="9.5" text-anchor="middle" fill="#1e1e1e" transform="rotate(-90 476 96.6)">Absorbance</text>
<line x1="606.1" y1="40.2" x2="622.7" y2="40.2" stroke="#a9c6f0" stroke-width="1.7" />
<text x="0" y="0" transform="translate(624.9 42.95) scale(1 1.1)" font-size="7.5" text-anchor="start" fill="#1e1e1e" class="sm"  style="">pH 3.5</text>
<line x1="606.1" y1="49.4" x2="622.7" y2="49.4" stroke="#74a6ec" stroke-width="1" />
<text x="0" y="0" transform="translate(624.9 52.15) scale(1 1.1)" font-size="7.5" text-anchor="start" fill="#1e1e1e" class="sm"  style="">pH 4.5</text>
<line x1="606.1" y1="58.6" x2="622.7" y2="58.6" stroke="#9bbff2" stroke-width="1" />
<text x="0" y="0" transform="translate(624.9 61.35) scale(1 1.1)" font-size="7.5" text-anchor="start" fill="#1e1e1e" class="sm"  style="">pH 5.5</text>
<line x1="606.1" y1="67.8" x2="622.7" y2="67.8" stroke="#d4e3f8" stroke-width="1" />
<text x="0" y="0" transform="translate(624.9 70.55) scale(1 1.1)" font-size="7.5" text-anchor="start" fill="#1e1e1e" class="sm"  style="">pH 6.5</text>
<line x1="606.1" y1="77" x2="622.7" y2="77" stroke="#f8dede" stroke-width="1" />
<text x="0" y="0" transform="translate(624.9 79.75) scale(1 1.1)" font-size="7.5" text-anchor="start" fill="#1e1e1e" class="sm"  style="">pH 7.5</text>
<line x1="606.1" y1="86.2" x2="622.7" y2="86.2" stroke="#f2b0b0" stroke-width="1" />
<text x="0" y="0" transform="translate(624.9 88.95) scale(1 1.1)" font-size="7.5" text-anchor="start" fill="#1e1e1e" class="sm"  style="">pH 8.5</text>
<line x1="606.1" y1="95.4" x2="622.7" y2="95.4" stroke="#e45a5e" stroke-width="1" />
<text x="0" y="0" transform="translate(624.9 98.15) scale(1 1.1)" font-size="7.5" text-anchor="start" fill="#1e1e1e" class="sm"  style="">pH 9.5</text>
<path d="M24.4,329.91C25.3,330.47 27.71,331.92 29.78,333.25C31.85,334.59 34.75,336.49 36.82,337.94C38.89,339.39 40.82,341.06 42.2,341.95C43.58,342.84 44.06,342.84 45.1,343.29C46.13,343.74 47.03,343.74 48.41,344.63C49.79,345.52 51.52,347.08 53.38,348.64C55.24,350.2 57.52,352.1 59.59,353.99C61.66,355.89 62.83,357.12 65.8,360.01C68.77,362.91 73.11,367.6 77.39,371.39C81.67,375.18 86.02,379.64 91.47,382.76C96.92,385.88 103.27,388.56 110.1,390.12C116.93,391.68 126.04,391.9 132.45,392.13C138.87,392.35 142.46,391.68 148.6,391.46C154.74,391.24 162.4,390.68 169.3,390.79C176.2,390.9 186.55,391.9 190,392.13" stroke="#f6d2d2" stroke-width="0.95" fill="none" stroke-linejoin="round" stroke-linecap="round" />
<path d="M24.4,332.59C25.3,333.14 27.71,334.7 29.78,335.93C31.85,337.16 34.75,338.83 36.82,339.94C38.89,341.06 40.82,342.06 42.2,342.62C43.58,343.18 44.06,342.96 45.1,343.29C46.13,343.62 47.03,343.74 48.41,344.63C49.79,345.52 51.52,346.97 53.38,348.64C55.24,350.31 57.52,352.66 59.59,354.66C61.66,356.67 62.83,357.78 65.8,360.68C68.77,363.58 73.11,368.27 77.39,372.06C81.67,375.85 86.02,380.31 91.47,383.43C96.92,386.55 103.27,389.23 110.1,390.79C116.93,392.35 126.04,392.8 132.45,392.8C138.87,392.8 142.46,391.35 148.6,390.79C154.74,390.23 162.4,389.45 169.3,389.45C176.2,389.45 186.55,390.57 190,390.79" stroke="#f2b8b8" stroke-width="0.95" fill="none" stroke-linejoin="round" stroke-linecap="round" />
<path d="M24.4,319.88C25.09,319.76 27.16,319.88 28.54,319.21C29.92,318.54 31.3,317.21 32.68,315.86C34.06,314.51 35.44,313.07 36.82,311.12C38.2,309.17 39.72,306.03 40.96,304.14C42.2,302.25 43.31,300.72 44.27,299.78C45.24,298.83 45.93,298.39 46.76,298.47C47.58,298.54 48.27,298.76 49.24,300.21C50.21,301.67 51.31,304.14 52.55,307.19C53.79,310.25 55.52,314.75 56.69,318.54C57.87,322.32 58.62,326.34 59.59,329.91C60.56,333.48 61.25,335.82 62.49,339.94C63.73,344.07 65.25,350.09 67.04,354.66C68.84,359.23 70.35,362.91 73.25,367.37C76.15,371.83 80.84,377.74 84.43,381.42C88.02,385.1 91.33,387.44 94.78,389.45C98.23,391.46 101.68,392.57 105.13,393.46C108.58,394.36 110.93,395.03 115.48,394.8C120.03,394.58 126.93,393.84 132.45,392.13C137.97,390.42 143.84,387.16 148.6,384.53C153.36,381.9 157.29,378.54 161.02,376.35C164.75,374.16 167.85,371.87 170.96,371.39C174.06,370.9 176.48,372.22 179.65,373.43C182.82,374.65 188.28,377.81 190,378.69" stroke="#cfe0f8" stroke-width="1.0" fill="none" stroke-linejoin="round" stroke-linecap="round" />
<path d="M24.4,319.21C25.09,319.09 27.16,319.21 28.54,318.54C29.92,317.87 31.3,316.78 32.68,315.19C34.06,313.61 35.44,311.54 36.82,309.02C38.2,306.5 39.72,302.49 40.96,300.06C42.2,297.63 43.31,295.67 44.27,294.46C45.24,293.25 45.93,292.69 46.76,292.78C47.58,292.87 48.27,293.15 49.24,295.02C50.21,296.89 51.31,300.06 52.55,303.98C53.79,307.9 55.52,314.22 56.69,318.54C57.87,322.86 58.62,326.34 59.59,329.91C60.56,333.48 61.25,335.82 62.49,339.94C63.73,344.07 65.25,350.09 67.04,354.66C68.84,359.23 70.35,362.91 73.25,367.37C76.15,371.83 80.84,377.74 84.43,381.42C88.02,385.1 91.33,387.44 94.78,389.45C98.23,391.46 101.68,392.57 105.13,393.46C108.58,394.36 110.93,395.03 115.48,394.8C120.03,394.58 126.93,393.92 132.45,392.13C137.97,390.33 143.84,386.84 148.6,384.04C153.36,381.24 157.29,377.67 161.02,375.34C164.75,373 167.85,370.57 170.96,370.05C174.06,369.53 176.48,370.93 179.65,372.23C182.82,373.52 188.28,376.89 190,377.82" stroke="#a9c8f3" stroke-width="1.0" fill="none" stroke-linejoin="round" stroke-linecap="round" />
<path d="M24.4,318.2C25.09,318.09 27.16,318.2 28.54,317.53C29.92,316.86 31.3,315.96 32.68,314.19C34.06,312.42 35.44,309.95 36.82,306.92C38.2,303.88 39.72,298.94 40.96,295.98C42.2,293.02 43.31,290.63 44.27,289.14C45.24,287.66 45.93,286.98 46.76,287.09C47.58,287.21 48.27,287.55 49.24,289.83C50.21,292.11 51.31,295.98 52.55,300.76C53.79,305.55 55.52,313.68 56.69,318.54C57.87,323.39 58.62,326.34 59.59,329.91C60.56,333.48 61.25,335.82 62.49,339.94C63.73,344.07 65.25,350.09 67.04,354.66C68.84,359.23 70.35,362.91 73.25,367.37C76.15,371.83 80.84,377.74 84.43,381.42C88.02,385.1 91.33,387.44 94.78,389.45C98.23,391.46 101.68,392.57 105.13,393.46C108.58,394.36 110.93,395.03 115.48,394.8C120.03,394.58 126.93,394.02 132.45,392.13C137.97,390.23 143.84,386.44 148.6,383.43C153.36,380.42 157.29,376.57 161.02,374.06C164.75,371.56 167.85,368.94 170.96,368.38C174.06,367.82 176.48,369.33 179.65,370.72C182.82,372.11 188.28,375.74 190,376.74" stroke="#86b2ef" stroke-width="1.0" fill="none" stroke-linejoin="round" stroke-linecap="round" />
<path d="M24.4,326.56C25.3,327.12 27.71,328.57 29.78,329.91C31.85,331.25 34.61,332.92 36.82,334.59C39.03,336.27 41.44,338.61 43.03,339.94C44.62,341.28 45.17,341.81 46.34,342.62C47.52,343.43 48.2,343.27 50.07,344.83C51.93,346.39 54.9,349.46 57.52,351.99C60.14,354.52 62.49,356.96 65.8,360.01C69.11,363.07 73.11,366.75 77.39,370.32C81.67,373.89 86.02,378.35 91.47,381.42C96.92,384.5 103.27,387 110.1,388.78C116.93,390.57 126.04,391.4 132.45,392.13C138.87,392.85 142.46,392.85 148.6,393.13C154.74,393.41 162.4,393.52 169.3,393.8C176.2,394.08 186.55,394.64 190,394.8" stroke="#e85a5e" stroke-width="1.0" fill="none" stroke-linejoin="round" stroke-linecap="round" />
<path d="M24.4,321.88C25.09,321.66 27.16,321.55 28.54,320.54C29.92,319.54 31.3,317.87 32.68,315.86C34.06,313.85 35.65,310.51 36.82,308.5C37.99,306.5 38.89,304.82 39.72,303.82C40.55,302.82 41.03,302.26 41.79,302.48C42.55,302.7 43.38,303.15 44.27,305.16C45.17,307.16 46.14,310.84 47.17,314.52C48.2,318.2 49.24,322.77 50.48,327.23C51.72,331.69 53.1,336.82 54.62,341.28C56.14,345.74 57.59,349.65 59.59,353.99C61.59,358.34 63.66,362.8 66.63,367.37C69.59,371.95 73.25,377.52 77.39,381.42C81.53,385.33 86.84,388.56 91.47,390.79C96.09,393.02 100.44,394.02 105.13,394.8C109.82,395.58 115.07,395.92 119.62,395.47C124.17,395.03 127.62,393.8 132.45,392.13C137.28,390.45 143.84,387.56 148.6,385.44C153.36,383.32 157.29,380.98 161.02,379.42C164.75,377.86 167.51,376.29 170.96,376.07C174.41,375.85 178.55,376.96 181.72,378.08C184.89,379.19 188.62,381.98 190,382.76" stroke="#4f8be6" stroke-width="1.05" fill="none" stroke-linejoin="round" stroke-linecap="round" />
<rect x="24.4" y="275.7" width="166.8" height="134.3" fill="none" stroke="#4a4a4a" stroke-width="1"/>
<line x1="21.9" y1="403.5" x2="24.4" y2="403.5" stroke="#4a4a4a" stroke-width="1" />
<text x="0" y="0" transform="translate(21 406.25) scale(1 1.1)" font-size="7.3" text-anchor="end" fill="#1e1e1e" class="sm"  style="">0.0</text>
<line x1="21.9" y1="376.74" x2="24.4" y2="376.74" stroke="#4a4a4a" stroke-width="1" />
<text x="0" y="0" transform="translate(21 379.49) scale(1 1.1)" font-size="7.3" text-anchor="end" fill="#1e1e1e" class="sm"  style="">0.4</text>
<line x1="21.9" y1="349.98" x2="24.4" y2="349.98" stroke="#4a4a4a" stroke-width="1" />
<text x="0" y="0" transform="translate(21 352.73) scale(1 1.1)" font-size="7.3" text-anchor="end" fill="#1e1e1e" class="sm"  style="">0.8</text>
<line x1="21.9" y1="323.22" x2="24.4" y2="323.22" stroke="#4a4a4a" stroke-width="1" />
<text x="0" y="0" transform="translate(21 325.97) scale(1 1.1)" font-size="7.3" text-anchor="end" fill="#1e1e1e" class="sm"  style="">1.2</text>
<line x1="21.9" y1="296.46" x2="24.4" y2="296.46" stroke="#4a4a4a" stroke-width="1" />
<text x="0" y="0" transform="translate(21 299.21) scale(1 1.1)" font-size="7.3" text-anchor="end" fill="#1e1e1e" class="sm"  style="">1.6</text>
<line x1="22.9" y1="390.12" x2="24.4" y2="390.12" stroke="#4a4a4a" stroke-width="0.8" />
<line x1="22.9" y1="363.36" x2="24.4" y2="363.36" stroke="#4a4a4a" stroke-width="0.8" />
<line x1="22.9" y1="336.6" x2="24.4" y2="336.6" stroke="#4a4a4a" stroke-width="0.8" />
<line x1="22.9" y1="309.84" x2="24.4" y2="309.84" stroke="#4a4a4a" stroke-width="0.8" />
<line x1="22.9" y1="283.08" x2="24.4" y2="283.08" stroke="#4a4a4a" stroke-width="0.8" />
<line x1="24.4" y1="410" x2="24.4" y2="412.5" stroke="#4a4a4a" stroke-width="1" />
<text x="0" y="0" transform="translate(24.4 420.2) scale(1 1.1)" font-size="7.3" text-anchor="middle" fill="#1e1e1e" class="sm"  style="">300</text>
<line x1="65.8" y1="410" x2="65.8" y2="412.5" stroke="#4a4a4a" stroke-width="1" />
<text x="0" y="0" transform="translate(65.8 420.2) scale(1 1.1)" font-size="7.3" text-anchor="middle" fill="#1e1e1e" class="sm"  style="">400</text>
<line x1="107.2" y1="410" x2="107.2" y2="412.5" stroke="#4a4a4a" stroke-width="1" />
<text x="0" y="0" transform="translate(107.2 420.2) scale(1 1.1)" font-size="7.3" text-anchor="middle" fill="#1e1e1e" class="sm"  style="">500</text>
<line x1="148.6" y1="410" x2="148.6" y2="412.5" stroke="#4a4a4a" stroke-width="1" />
<text x="0" y="0" transform="translate(148.6 420.2) scale(1 1.1)" font-size="7.3" text-anchor="middle" fill="#1e1e1e" class="sm"  style="">600</text>
<line x1="190" y1="410" x2="190" y2="412.5" stroke="#4a4a4a" stroke-width="1" />
<text x="0" y="0" transform="translate(190 420.2) scale(1 1.1)" font-size="7.3" text-anchor="middle" fill="#1e1e1e" class="sm"  style="">700</text>
<line x1="45.1" y1="410" x2="45.1" y2="411.5" stroke="#4a4a4a" stroke-width="0.8" />
<line x1="86.5" y1="410" x2="86.5" y2="411.5" stroke="#4a4a4a" stroke-width="0.8" />
<line x1="127.9" y1="410" x2="127.9" y2="411.5" stroke="#4a4a4a" stroke-width="0.8" />
<line x1="169.3" y1="410" x2="169.3" y2="411.5" stroke="#4a4a4a" stroke-width="0.8" />
<text x="107.8" y="433.6" font-size="9.7" text-anchor="middle" fill="#1e1e1e" class="sm"  style="">Wavelength (nm)</text>
<text class="sm" x="7.8" y="342" font-size="9.5" text-anchor="middle" fill="#1e1e1e" transform="rotate(-90 7.8 342)">Absorbance</text>
<line x1="137.7" y1="286.8" x2="154.9" y2="286.8" stroke="#5b93e8" stroke-width="1" />
<text x="0" y="0" transform="translate(156.7 289.55) scale(1 1.1)" font-size="7.5" text-anchor="start" fill="#1e1e1e" class="sm"  style="">pH 3.5</text>
<line x1="137.7" y1="295.98" x2="154.9" y2="295.98" stroke="#a8c6f2" stroke-width="1" />
<text x="0" y="0" transform="translate(156.7 298.73) scale(1 1.1)" font-size="7.5" text-anchor="start" fill="#1e1e1e" class="sm"  style="">pH 4.5</text>
<line x1="137.7" y1="305.16" x2="154.9" y2="305.16" stroke="#a4c4f2" stroke-width="1" />
<text x="0" y="0" transform="translate(156.7 307.91) scale(1 1.1)" font-size="7.5" text-anchor="start" fill="#1e1e1e" class="sm"  style="">pH 5.5</text>
<line x1="137.7" y1="314.34" x2="154.9" y2="314.34" stroke="#cfdff8" stroke-width="1" />
<text x="0" y="0" transform="translate(156.7 317.09) scale(1 1.1)" font-size="7.5" text-anchor="start" fill="#1e1e1e" class="sm"  style="">pH 6.5</text>
<line x1="137.7" y1="323.52" x2="154.9" y2="323.52" stroke="#f8dada" stroke-width="1" />
<text x="0" y="0" transform="translate(156.7 326.27) scale(1 1.1)" font-size="7.5" text-anchor="start" fill="#1e1e1e" class="sm"  style="">pH 7.5</text>
<line x1="137.7" y1="332.7" x2="154.9" y2="332.7" stroke="#f5c8c8" stroke-width="1" />
<text x="0" y="0" transform="translate(156.7 335.45) scale(1 1.1)" font-size="7.5" text-anchor="start" fill="#1e1e1e" class="sm"  style="">pH 8.5</text>
<line x1="137.7" y1="341.88" x2="154.9" y2="341.88" stroke="#e45a5e" stroke-width="1" />
<text x="0" y="0" transform="translate(156.7 344.63) scale(1 1.1)" font-size="7.5" text-anchor="start" fill="#1e1e1e" class="sm"  style="">pH 9.5</text>
<text class="sm" x="73.0" y="289.1" font-size="7.3" fill="#1e1e1e">+ 1 mM Fe<tspan font-size="4.9" dy="-3.0">2+</tspan></text>
<text x="258.8" y="215.5" font-size="6.85" text-anchor="start" fill="#1e1e1e" class="sm"  style="">zoom 20-fold</text>
<circle cx="309.3" cy="209.4" r="4.8" fill="none" stroke="#111" stroke-width="1.1"/>
<line x1="306.32" y1="209.4" x2="312.28" y2="209.4" stroke="#111" stroke-width="1.045" />
<line x1="308.5" y1="206.42" x2="308.5" y2="212.38" stroke="#111" stroke-width="1.045" />
<line x1="312.69" y1="212.79" x2="316.69" y2="216.79" stroke="#111" stroke-width="2.1" stroke-linecap="round"/>
<line x1="223.8" y1="220.7" x2="375.8" y2="220.7" stroke="#8a8a8a" stroke-width="1.1" />
<text class="sm" x="227" y="239" font-size="7" fill="#1e1e1e">+Fe<tspan font-size="4.34" dy="-2.9">2+</tspan><tspan dy="2.9"> pH 6.5, +HEDP 150 min</tspan></text>
<text class="sm" x="226.4" y="279.3" font-size="7" fill="#1e1e1e">+Fe<tspan font-size="4.34" dy="-2.9">2+</tspan><tspan dy="2.9"> pH 7.5</tspan></text>
<text x="226.4" y="288.3" font-size="7" text-anchor="start" fill="#1e1e1e" class="sm"  style="">+HEDP 150 min</text>
<text class="sm" x="226.4" y="330" font-size="7" fill="#1e1e1e">+Fe<tspan font-size="4.34" dy="-2.9">2+</tspan><tspan dy="2.9"> pH 7.5</tspan></text>
<text x="226.4" y="338.4" font-size="7" text-anchor="start" fill="#1e1e1e" class="sm"  style="">150 min</text>
<text x="225.5" y="385.5" font-size="7" text-anchor="start" fill="#1e1e1e" class="sm"  style="">0 min</text>
<path d="M223.8,253.3 224.05,253.38 224.3,253.45 224.55,253.53 224.8,253.61 225.05,253.69 225.3,253.76 225.55,253.84 225.8,253.92 226.05,254 226.3,254.07 226.55,254.15 226.8,254.23 227.05,254.31 227.3,254.38 227.55,254.46 227.8,254.54 228.05,254.61 228.3,254.67 228.55,254.73 228.8,254.78 229.05,254.84 229.3,254.9 229.55,254.95 229.8,255.01 230.05,255.07 230.3,255.13 230.55,255.18 230.8,255.24 231.05,255.3 231.3,255.35 231.55,255.41 231.8,255.47 232.05,255.53 232.3,255.58 232.55,255.64 232.8,255.7 233.05,255.75 233.3,255.81 233.55,255.87 233.8,255.93 234.05,255.98 234.3,256.04 234.55,256.1 234.8,256.15 235.05,256.2 235.3,256.23 235.55,256.25 235.8,256.28 236.05,256.31 236.3,256.33 236.55,256.36 236.8,256.38 237.05,256.4 237.3,256.43 237.55,256.45 237.8,256.48 238.05,256.5 238.3,256.53 238.55,256.56 238.8,256.58 239.05,256.61 239.3,256.63 239.55,256.65 239.8,256.68 240.05,256.7 240.3,256.73 240.55,256.75 240.8,256.78 241.05,256.81 241.3,256.83 241.55,256.86 241.8,256.88 242.05,256.9 242.3,256.93 242.55,256.95 242.8,256.98 243.05,257 243.3,257.03 243.55,257.06 243.8,257.08 244.05,257.11 244.3,257.13 244.55,257.15 244.8,257.18 245.05,257.2 245.3,257.22 245.55,257.24 245.8,257.26 246.05,257.28 246.3,257.3 246.55,257.32 246.8,257.34 247.05,257.36 247.3,257.38 247.55,257.4 247.8,257.42 248.05,257.43 248.3,257.45 248.55,257.47 248.8,257.49 249.05,257.51 249.3,257.53 249.55,257.55 249.8,257.57 250.05,257.59 250.3,257.61 250.55,257.63 250.8,257.65 251.05,257.67 251.3,257.68 251.55,257.7 251.8,257.72 252.05,257.74 252.3,257.76 252.55,257.78 252.8,257.8 253.05,257.82 253.3,257.84 253.55,257.86 253.8,257.88 254.05,257.9 254.3,257.92 254.55,257.93 254.8,257.95 255.05,257.97 255.3,257.99 255.55,258.01 255.8,258.03 256.05,258.05 256.3,258.07 256.55,258.09 256.8,258.11 257.05,258.13 257.3,258.15 257.55,258.17 257.8,258.18 258.05,258.2 258.3,258.21 258.55,258.22 258.8,258.23 259.05,258.24 259.3,258.25 259.55,258.26 259.8,258.27 260.05,258.28 260.3,258.29 260.55,258.3 260.8,258.31 261.05,258.32 261.3,258.33 261.55,258.34 261.8,258.35 262.05,258.36 262.3,258.37 262.55,258.38 262.8,258.39 263.05,258.4 263.3,258.41 263.55,258.42 263.8,258.43 264.05,258.44 264.3,258.45 264.55,258.46 264.8,258.47 265.05,258.48 265.3,258.49 265.55,258.5 265.8,258.51 266.05,258.52 266.3,258.53 266.55,258.54 266.8,258.55 267.05,258.56 267.3,258.57 267.55,258.58 267.8,258.59 268.05,258.6 268.3,258.61 268.55,258.62 268.8,258.63 269.05,258.64 269.3,258.65 269.55,258.66 269.8,258.67 270.05,258.68 270.3,258.69 270.55,258.7 270.8,258.71 271.05,258.72 271.3,258.73 271.55,258.74 271.8,258.75 272.05,258.76 272.3,258.77 272.55,258.78 272.8,258.79 273.05,258.8 273.3,258.78 273.55,258.72 273.8,258.55 274.05,258.16 274.3,257.46 274.55,256.48 274.8,255.44 275.05,254.73 275.3,254.66 275.55,255.28 275.8,256.31 276.05,257.35 276.3,258.13 276.55,258.6 276.8,258.83 277.05,258.93 277.3,258.96 277.55,258.98 277.8,258.99 278.05,259 278.3,259 278.55,259.01 278.8,259.01 279.05,259.01 279.3,259.02 279.55,259.02 279.8,259.02 280.05,259.03 280.3,259.03 280.55,259.03 280.8,259.04 281.05,259.04 281.3,259.05 281.55,259.05 281.8,259.05 282.05,259.06 282.3,259.06 282.55,259.06 282.8,259.07 283.05,259.07 283.3,259.07 283.55,259.08 283.8,259.08 284.05,259.08 284.3,259.09 284.55,259.09 284.8,259.09 285.05,259.1 285.3,259.1 285.55,259.1 285.8,259.11 286.05,259.11 286.3,259.11 286.55,259.12 286.8,259.12 287.05,259.12 287.3,259.11 287.55,259.09 287.8,259 288.05,258.78 288.3,258.35 288.55,257.7 288.8,256.92 289.05,256.26 289.3,256 289.55,256.27 289.8,256.93 290.05,257.72 290.3,258.38 290.55,258.81 290.8,259.04 291.05,259.13 291.3,259.17 291.55,259.18 291.8,259.19 292.05,259.19 292.3,259.19 292.55,259.2 292.8,259.2 293.05,259.21 293.3,259.21 293.55,259.21 293.8,259.22 294.05,259.22 294.3,259.22 294.55,259.23 294.8,259.23 295.05,259.23 295.3,259.24 295.55,259.24 295.8,259.24 296.05,259.25 296.3,259.25 296.55,259.25 296.8,259.26 297.05,259.26 297.3,259.26 297.55,259.27 297.8,259.27 298.05,259.27 298.3,259.28 298.55,259.28 298.8,259.28 299.05,259.29 299.3,259.29 299.55,259.29 299.8,259.3 300.05,259.3 300.3,259.3 300.55,259.3 300.8,259.3 301.05,259.29 301.3,259.29 301.55,259.28 301.8,259.27 302.05,259.21 302.3,259.09 302.55,258.84 302.8,258.43 303.05,257.92 303.3,257.45 303.55,257.21 303.8,257.31 304.05,257.71 304.3,258.22 304.55,258.68 304.8,258.99 305.05,259.16 305.3,259.23 305.55,259.26 305.8,259.26 306.05,259.26 306.3,259.26 306.55,259.26 306.8,259.26 307.05,259.26 307.3,259.26 307.55,259.26 307.8,259.25 308.05,259.25 308.3,259.25 308.55,259.25 308.8,259.25 309.05,259.25 309.3,259.24 309.55,259.24 309.8,259.22 310.05,259.17 310.3,259.02 310.55,258.71 310.8,258.25 311.05,257.79 311.3,257.6 311.55,257.79 311.8,258.24 312.05,258.7 312.3,259.01 312.55,259.15 312.8,259.21 313.05,259.22 313.3,259.22 313.55,259.22 313.8,259.22 314.05,259.22 314.3,259.22 314.55,259.21 314.8,259.21 315.05,259.21 315.3,259.21 315.55,259.21 315.8,259.21 316.05,259.21 316.3,259.2 316.55,259.2 316.8,259.2 317.05,259.15 317.3,258.95 317.55,258.72 317.8,258.46 318.05,258.14 318.3,257.76 318.55,257.3 318.8,256.79 319.05,256.28 319.3,255.84 319.55,255.54 319.8,255.4 320.05,255.42 320.3,255.53 320.55,255.67 320.8,255.78 321.05,255.86 321.3,256.01 321.55,256.1 321.8,256.11 322.05,256.04 322.3,255.86 322.55,255.6 322.8,255.37 323.05,255.3 323.3,255.45 323.55,255.71 323.8,255.95 324.05,256.1 324.3,256.17 324.55,256.18 324.8,256.16 325.05,256.1 325.3,255.97 325.55,255.8 325.8,255.65 326.05,255.6 326.3,255.7 326.55,255.87 326.8,256.03 327.05,256.13 327.3,256.18 327.55,256.2 327.8,256.2 328.05,256.2 328.3,256.2 328.55,256.19 328.8,256.17 329.05,256.12 329.3,256.01 329.55,255.87 329.8,255.74 330.05,255.7 330.3,255.78 330.55,255.93 330.8,256.06 331.05,256.14 331.3,256.18 331.55,256.2 331.8,256.2 332.05,256.2 332.3,256.2 332.55,256.19 332.8,256.16 333.05,256.08 333.3,255.94 333.55,255.73 333.8,255.55 334.05,255.5 334.3,255.62 334.55,255.82 334.8,256.01 335.05,256.12 335.3,256.18 335.55,256.19 335.8,256.2 336.05,256.2 336.3,256.2 336.55,256.2 336.8,256.2 337.05,256.2 337.3,256.2 337.55,256.18 337.8,256.13 338.05,255.96 338.3,255.56 338.55,254.75 338.8,253.44 339.05,251.76 339.3,250.15 339.55,249.11 339.8,248.83 340.05,248.97 340.3,248.96 340.55,248.55 340.8,248.1 341.05,248.27 341.3,249.37 341.55,251.17 341.8,253.07 342.05,254.55 342.3,255.47 342.55,255.91 342.8,256.06 343.05,256.01 343.3,255.82 343.55,255.53 343.8,255.28 344.05,255.2 344.3,255.36 344.55,255.65 344.8,255.92 345.05,256.09 345.3,256.17 345.55,256.19 345.8,256.2 346.05,256.2 346.3,256.2 346.55,256.2 346.8,256.2 347.05,256.2 347.3,256.2 347.55,256.2 347.8,256.2 348.05,256.19 348.3,256.15 348.55,256.02 348.8,255.76 349.05,255.33 349.3,254.86 349.55,254.6 349.8,254.69 350.05,255 350.3,255.15 350.55,254.76 350.8,253.68 351.05,252.26 351.3,251.29 351.55,251.42 351.8,252.57 352.05,254.05 352.3,255.21 352.55,255.84 352.8,256.1 353.05,256.18 353.3,256.2 353.55,256.2 353.8,256.2 354.05,256.2 354.3,256.2 354.55,256.19 354.8,256.16 355.05,256.08 355.3,255.94 355.55,255.73 355.8,255.55 356.05,255.5 356.3,255.62 356.55,255.82 356.8,256.01 357.05,256.12 357.3,256.18 357.55,256.19 357.8,256.2 358.05,256.2 358.3,256.2 358.55,256.2 358.8,256.2 359.05,256.2 359.3,256.2 359.55,256.2 359.8,256.2 360.05,256.2 360.3,256.21 360.55,256.22 360.8,256.24 361.05,256.25 361.3,256.26 361.55,256.26 361.8,256.25 362.05,256.16 362.3,255.88 362.55,255.19 362.8,253.91 363.05,252.11 363.3,250.35 363.55,249.43 363.8,249.85 364.05,251.4 364.3,253.29 364.55,254.84 364.8,255.77 365.05,256.21 365.3,256.38 365.55,256.43 365.8,256.45 366.05,256.47 366.3,256.48 366.55,256.49 366.8,256.5 367.05,256.51 367.3,256.52 367.55,256.53 367.8,256.55 368.05,256.56 368.3,256.57 368.55,256.58 368.8,256.59 369.05,256.6 369.3,256.61 369.55,256.62 369.8,256.63 370.05,256.65 370.3,256.66 370.55,256.67 370.8,256.68 371.05,256.69 371.3,256.7 371.55,256.71 371.8,256.72 372.05,256.73 372.3,256.74 372.55,256.76 372.8,256.77 373.05,256.78 373.3,256.79 373.55,256.8 373.8,256.81 374.05,256.82 374.3,256.83 374.55,256.84 374.8,256.86 375.05,256.87 375.3,256.88 375.55,256.89 375.8,256.9" stroke="#35cf96" stroke-width="0.95" fill="none" stroke-linejoin="round" opacity="1.0"/>
<path d="M223.8,299 224.05,299.01 224.3,299.02 224.55,299.03 224.8,299.04 225.05,299.05 225.3,299.06 225.55,299.07 225.8,299.08 226.05,299.09 226.3,299.1 226.55,299.11 226.8,299.12 227.05,299.13 227.3,299.15 227.55,299.16 227.8,299.17 228.05,299.18 228.3,299.19 228.55,299.2 228.8,299.21 229.05,299.22 229.3,299.23 229.55,299.24 229.8,299.25 230.05,299.26 230.3,299.27 230.55,299.28 230.8,299.29 231.05,299.3 231.3,299.31 231.55,299.32 231.8,299.33 232.05,299.34 232.3,299.35 232.55,299.36 232.8,299.37 233.05,299.38 233.3,299.39 233.55,299.4 233.8,299.41 234.05,299.42 234.3,299.44 234.55,299.45 234.8,299.46 235.05,299.47 235.3,299.48 235.55,299.49 235.8,299.5 236.05,299.51 236.3,299.52 236.55,299.53 236.8,299.54 237.05,299.55 237.3,299.56 237.55,299.57 237.8,299.58 238.05,299.59 238.3,299.6 238.55,299.61 238.8,299.62 239.05,299.63 239.3,299.64 239.55,299.65 239.8,299.66 240.05,299.67 240.3,299.68 240.55,299.69 240.8,299.7 241.05,299.71 241.3,299.73 241.55,299.74 241.8,299.75 242.05,299.76 242.3,299.77 242.55,299.78 242.8,299.79 243.05,299.8 243.3,299.81 243.55,299.82 243.8,299.83 244.05,299.84 244.3,299.85 244.55,299.86 244.8,299.87 245.05,299.88 245.3,299.89 245.55,299.9 245.8,299.91 246.05,299.92 246.3,299.93 246.55,299.94 246.8,299.95 247.05,299.96 247.3,299.97 247.55,299.98 247.8,299.99 248.05,300 248.3,300.02 248.55,300.03 248.8,300.04 249.05,300.05 249.3,300.06 249.55,300.07 249.8,300.08 250.05,300.09 250.3,300.1 250.55,300.11 250.8,300.12 251.05,300.13 251.3,300.14 251.55,300.15 251.8,300.16 252.05,300.17 252.3,300.18 252.55,300.19 252.8,300.2 253.05,300.21 253.3,300.22 253.55,300.23 253.8,300.24 254.05,300.25 254.3,300.26 254.55,300.27 254.8,300.28 255.05,300.29 255.3,300.31 255.55,300.32 255.8,300.33 256.05,300.34 256.3,300.35 256.55,300.36 256.8,300.37 257.05,300.38 257.3,300.39 257.55,300.4 257.8,300.41 258.05,300.42 258.3,300.43 258.55,300.44 258.8,300.45 259.05,300.46 259.3,300.47 259.55,300.48 259.8,300.49 260.05,300.5 260.3,300.51 260.55,300.52 260.8,300.53 261.05,300.54 261.3,300.55 261.55,300.56 261.8,300.57 262.05,300.58 262.3,300.59 262.55,300.6 262.8,300.61 263.05,300.62 263.3,300.63 263.55,300.64 263.8,300.65 264.05,300.66 264.3,300.67 264.55,300.68 264.8,300.69 265.05,300.7 265.3,300.71 265.55,300.72 265.8,300.73 266.05,300.74 266.3,300.75 266.55,300.76 266.8,300.77 267.05,300.78 267.3,300.79 267.55,300.8 267.8,300.81 268.05,300.82 268.3,300.83 268.55,300.84 268.8,300.85 269.05,300.86 269.3,300.87 269.55,300.88 269.8,300.89 270.05,300.9 270.3,300.91 270.55,300.92 270.8,300.93 271.05,300.94 271.3,300.95 271.55,300.96 271.8,300.97 272.05,300.98 272.3,300.99 272.55,301 272.8,301.01 273.05,301.02 273.3,301.03 273.55,301.02 273.8,300.99 274.05,300.87 274.3,300.58 274.55,300.05 274.8,299.26 275.05,298.37 275.3,297.69 275.55,297.51 275.8,297.94 276.05,298.76 276.3,299.66 276.55,300.38 276.8,300.83 277.05,301.05 277.3,301.15 277.55,301.19 277.8,301.21 278.05,301.22 278.3,301.23 278.55,301.24 278.8,301.25 279.05,301.26 279.3,301.27 279.55,301.28 279.8,301.29 280.05,301.3 280.3,301.31 280.55,301.32 280.8,301.33 281.05,301.34 281.3,301.35 281.55,301.36 281.8,301.37 282.05,301.38 282.3,301.39 282.55,301.4 282.8,301.41 283.05,301.42 283.3,301.43 283.55,301.44 283.8,301.45 284.05,301.46 284.3,301.47 284.55,301.48 284.8,301.49 285.05,301.5 285.3,301.51 285.55,301.52 285.8,301.53 286.05,301.54 286.3,301.55 286.55,301.56 286.8,301.57 287.05,301.58 287.3,301.59 287.55,301.58 287.8,301.54 288.05,301.4 288.3,301.07 288.55,300.45 288.8,299.54 289.05,298.51 289.3,297.72 289.55,297.52 289.8,298 290.05,298.95 290.3,299.96 290.55,300.76 290.8,301.24 291.05,301.47 291.3,301.56 291.55,301.57 291.8,301.57 292.05,301.55 292.3,301.53 292.55,301.51 292.8,301.49 293.05,301.48 293.3,301.46 293.55,301.44 293.8,301.42 294.05,301.4 294.3,301.38 294.55,301.37 294.8,301.35 295.05,301.33 295.3,301.31 295.55,301.29 295.8,301.27 296.05,301.26 296.3,301.24 296.55,301.22 296.8,301.2 297.05,301.18 297.3,301.16 297.55,301.15 297.8,301.13 298.05,301.11 298.3,301.09 298.55,301.07 298.8,301.05 299.05,301.04 299.3,301.02 299.55,301 299.8,300.98 300.05,300.96 300.3,300.94 300.55,300.93 300.8,300.91 301.05,300.89 301.3,300.87 301.55,300.84 301.8,300.78 302.05,300.65 302.3,300.39 302.55,299.92 302.8,299.24 303.05,298.47 303.3,297.88 303.55,297.71 303.8,298.03 304.05,298.69 304.3,299.41 304.55,299.98 304.8,300.33 305.05,300.48 305.3,300.52 305.55,300.5 305.8,300.47 306.05,300.43 306.3,300.39 306.55,300.32 306.8,300.19 307.05,299.92 307.3,299.44 307.55,298.78 307.8,298.19 308.05,298 308.3,298.3 308.55,298.87 308.8,299.4 309.05,299.72 309.3,299.84 309.55,299.85 309.8,299.83 310.05,299.79 310.3,299.75 310.55,299.71 310.8,299.67 311.05,299.63 311.3,299.59 311.55,299.55 311.8,299.51 312.05,299.47 312.3,299.43 312.55,299.39 312.8,299.35 313.05,299.31 313.3,299.27 313.55,299.23 313.8,299.19 314.05,299.15 314.3,299.11 314.55,299.07 314.8,299.03 315.05,298.98 315.3,298.89 315.55,298.8 315.8,298.71 316.05,298.62 316.3,298.54 316.55,298.45 316.8,298.36 317.05,298.27 317.3,298.17 317.55,298.04 317.8,297.85 318.05,297.49 318.3,296.85 318.55,295.82 318.8,294.47 319.05,293.14 319.3,292.31 319.55,292.31 319.8,293.1 320.05,294.29 320.3,295.41 320.55,296.18 320.8,296.58 321.05,296.72 321.3,296.72 321.55,296.65 321.8,296.57 322.05,296.49 322.3,296.45 322.55,296.38 322.8,296.2 323.05,295.65 323.3,294.4 323.55,292.38 323.8,290.41 324.05,289.7 324.3,290.33 324.55,290.44 324.8,287.43 325.05,280.72 325.3,273.64 325.55,271.53 325.8,276.25 326.05,284.25 326.3,290.79 326.55,294.2 326.8,295.4 327.05,295.64 327.3,295.5 327.55,294.84 327.8,293.05 328.05,289.66 328.3,285.54 328.55,283.08 328.8,284.15 329.05,287.85 329.3,291.67 329.55,294.02 329.8,294.95 330.05,295.14 330.3,294.99 330.55,294.51 330.8,293.69 331.05,292.72 331.3,292.07 331.55,292.13 331.8,292.86 332.05,293.8 332.3,294.53 332.55,294.92 332.8,295.07 333.05,295.1 333.3,295.1 333.55,295.09 333.8,295.07 334.05,295.06 334.3,295.03 334.55,294.99 334.8,294.88 335.05,294.6 335.3,294.07 335.55,293.34 335.8,292.7 336.05,292.51 336.3,292.88 336.55,293.57 336.8,294.21 337.05,294.61 337.3,294.78 337.55,294.82 337.8,294.81 338.05,294.76 338.3,294.66 338.55,294.43 338.8,293.99 339.05,293.26 339.3,292.21 339.55,290.97 339.8,289.8 340.05,289.04 340.3,288.95 340.55,289.56 340.8,290.64 341.05,291.87 341.3,292.94 341.55,293.71 341.8,294.17 342.05,294.4 342.3,294.5 342.55,294.53 342.8,294.53 343.05,294.51 343.3,294.5 343.55,294.47 343.8,294.39 344.05,294.23 344.3,293.92 344.55,293.49 344.8,293.12 345.05,293.01 345.3,293.25 345.55,293.67 345.8,294.06 346.05,294.31 346.3,294.43 346.55,294.48 346.8,294.51 347.05,294.52 347.3,294.54 347.55,294.55 347.8,294.55 348.05,294.52 348.3,294.38 348.55,294.03 348.8,293.43 349.05,292.71 349.3,292.24 349.55,292.32 349.8,292.9 350.05,293.64 350.3,294.23 350.55,294.56 350.8,294.7 351.05,294.75 351.3,294.78 351.55,294.79 351.8,294.81 352.05,294.82 352.3,294.84 352.55,294.85 352.8,294.87 353.05,294.88 353.3,294.89 353.55,294.9 353.8,294.87 354.05,294.78 354.3,294.58 354.55,294.31 354.8,294.06 355.05,294.01 355.3,294.18 355.55,294.49 355.8,294.77 356.05,294.95 356.3,295.04 356.55,295.08 356.8,295.11 357.05,295.12 357.3,295.12 357.55,295.09 357.8,294.97 358.05,294.66 358.3,294.11 358.55,293.46 358.8,293.04 359.05,293.11 359.3,293.64 359.55,294.31 359.8,294.85 360.05,295.15 360.3,295.31 360.55,295.4 360.8,295.46 361.05,295.51 361.3,295.56 361.55,295.6 361.8,295.65 362.05,295.7 362.3,295.74 362.55,295.76 362.8,295.7 363.05,295.47 363.3,294.98 363.55,294.27 363.8,293.66 364.05,293.52 364.3,293.98 364.55,294.78 364.8,295.52 365.05,296.01 365.3,296.25 365.55,296.37 365.8,296.43 366.05,296.49 366.3,296.54 366.55,296.59 366.8,296.63 367.05,296.68 367.3,296.73 367.55,296.78 367.8,296.83 368.05,296.88 368.3,296.93 368.55,296.98 368.8,297.03 369.05,297.08 369.3,297.12 369.55,297.17 369.8,297.22 370.05,297.27 370.3,297.32 370.55,297.37 370.8,297.42 371.05,297.47 371.3,297.52 371.55,297.57 371.8,297.62 372.05,297.66 372.3,297.71 372.55,297.76 372.8,297.81 373.05,297.86 373.3,297.91 373.55,297.96 373.8,298.01 374.05,298.06 374.3,298.11 374.55,298.15 374.8,298.2 375.05,298.25 375.3,298.3 375.55,298.35 375.8,298.4" stroke="#35cf96" stroke-width="0.95" fill="none" stroke-linejoin="round" opacity="1.0"/>
<path d="M223.8,356.2 224.05,355.86 224.3,355.27 224.55,354.97 224.8,355.44 225.05,356.45 225.3,357.38 225.55,357.96 225.8,358.29 226.05,358.5 226.3,358.52 226.55,358.54 226.8,358.56 227.05,358.57 227.3,358.59 227.55,358.61 227.8,358.59 228.05,358.45 228.3,357.87 228.55,356.35 228.8,353.66 229.05,350.72 229.3,349.4 229.55,350.75 229.8,353.74 230.05,356.46 230.3,358.02 230.55,358.63 230.8,358.81 231.05,358.86 231.3,358.88 231.55,358.9 231.8,358.91 232.05,358.93 232.3,358.95 232.55,358.97 232.8,358.99 233.05,359 233.3,359.02 233.55,359.04 233.8,359.06 234.05,359.07 234.3,359.09 234.55,359.09 234.8,359.03 235.05,358.86 235.3,358.52 235.55,358.01 235.8,357.52 236.05,357.22 236.3,357.13 236.55,357.13 236.8,357.15 237.05,357.32 237.3,357.76 237.55,358.34 237.8,358.84 238.05,359.16 238.3,359.32 238.55,359.38 238.8,359.41 239.05,359.43 239.3,359.45 239.55,359.47 239.8,359.48 240.05,359.49 240.3,359.46 240.55,359.27 240.8,358.69 241.05,357.47 241.3,355.64 241.55,353.85 241.8,353.1 242.05,353.9 242.3,355.73 242.55,357.59 242.8,358.77 243.05,359.13 243.3,358.82 243.55,358.15 243.8,357.64 244.05,357.74 244.3,358.39 244.55,359.15 244.8,359.67 245.05,359.92 245.3,360.01 245.55,360.05 245.8,360.08 246.05,360.1 246.3,360.13 246.55,360.15 246.8,360.18 247.05,360.18 247.3,360.11 247.55,359.83 247.8,359.1 248.05,357.74 248.3,355.99 248.55,354.65 248.8,354.53 249.05,355.72 249.3,357.44 249.55,358.72 249.8,358.94 250.05,357.92 250.3,355.96 250.55,353.95 250.8,353.1 251.05,354 251.3,356.07 251.55,358.13 251.8,359.26 252.05,359.18 252.3,358.07 252.55,356.64 252.8,356 253.05,356.7 253.3,358.23 253.55,359.56 253.8,360.14 254.05,359.91 254.3,359.07 254.55,357.99 254.8,357.26 255.05,357.38 255.3,358.28 255.55,359.43 255.8,360.33 256.05,360.84 256.3,361.05 256.55,361.14 256.8,361.18 257.05,361.2 257.3,361.23 257.55,361.25 257.8,361.28 258.05,361.3 258.3,361.33 258.55,361.35 258.8,361.38 259.05,361.4 259.3,361.43 259.55,361.45 259.8,361.48 260.05,361.5 260.3,361.53 260.55,361.55 260.8,361.57 261.05,361.59 261.3,361.61 261.55,361.63 261.8,361.65 262.05,361.67 262.3,361.7 262.55,361.72 262.8,361.74 263.05,361.76 263.3,361.78 263.55,361.8 263.8,361.82 264.05,361.84 264.3,361.86 264.55,361.87 264.8,361.83 265.05,361.68 265.3,361.28 265.55,360.47 265.8,359.13 266.05,357.44 266.3,355.89 266.55,355.12 266.8,355.49 267.05,356.84 267.3,358.6 267.55,360.15 267.8,361.22 268.05,361.81 268.3,362.08 268.55,362.19 268.8,362.24 269.05,362.27 269.3,362.28 269.55,362.27 269.8,362.2 270.05,361.97 270.3,361.49 270.55,360.65 270.8,359.53 271.05,358.42 271.3,357.76 271.55,357.86 271.8,358.68 272.05,359.87 272.3,361 272.55,361.81 272.8,362.27 273.05,362.5 273.3,362.6 273.55,362.64 273.8,362.66 274.05,362.64 274.3,362.53 274.55,362.19 274.8,361.51 275.05,360.57 275.3,359.74 275.55,359.52 275.8,360.07 276.05,361.05 276.3,361.96 276.55,362.54 276.8,362.82 277.05,362.92 277.3,362.97 277.55,362.99 277.8,363.01 278.05,363.03 278.3,363.06 278.55,363.08 278.8,363.1 279.05,363.12 279.3,363.14 279.55,363.16 279.8,363.18 280.05,363.2 280.3,363.19 280.55,363.17 280.8,363.16 281.05,363.15 281.3,363.14 281.55,363.13 281.8,363.12 282.05,363.1 282.3,363.09 282.55,363.05 282.8,362.96 283.05,362.73 283.3,362.24 283.55,361.32 283.8,359.99 284.05,358.49 284.3,357.33 284.55,357.02 284.8,357.69 285.05,359.03 285.3,360.49 285.55,361.65 285.8,362.36 286.05,362.7 286.3,362.84 286.55,362.88 286.8,362.88 287.05,362.87 287.3,362.86 287.55,362.85 287.8,362.84 288.05,362.82 288.3,362.8 288.55,362.7 288.8,362.23 289.05,360.38 289.3,355.24 289.55,345.45 289.8,333.49 290.05,326.43 290.3,329.63 290.55,340.55 290.8,351.8 291.05,358.75 291.3,361.63 291.55,362.46 291.8,362.62 292.05,362.63 292.3,362.63 292.55,362.61 292.8,362.6 293.05,362.59 293.3,362.58 293.55,362.57 293.8,362.56 294.05,362.54 294.3,362.53 294.55,362.52 294.8,362.51 295.05,362.49 295.3,362.43 295.55,362.36 295.8,362.3 296.05,362.24 296.3,362.18 296.55,362.11 296.8,362.05 297.05,361.99 297.3,361.93 297.55,361.86 297.8,361.8 298.05,361.74 298.3,361.68 298.55,361.61 298.8,361.55 299.05,361.49 299.3,361.43 299.55,361.36 299.8,361.3 300.05,361.24 300.3,361.17 300.55,361.11 300.8,361.05 301.05,360.99 301.3,360.92 301.55,360.86 301.8,360.78 302.05,360.6 302.3,359.95 302.55,357.88 302.8,352.98 303.05,345.1 303.3,337.44 303.55,335.14 303.8,339.98 304.05,348.21 304.3,354.95 304.55,358.44 304.8,359.63 305.05,359.78 305.3,359.36 305.55,358.04 305.8,355.19 306.05,350.68 306.3,345.81 306.55,343.09 306.8,344.23 307.05,348.43 307.3,353.22 307.55,356.67 307.8,358.41 308.05,359.04 308.3,359.18 308.55,359.15 308.8,359.02 309.05,358.57 309.3,357.07 309.55,353.26 309.8,346.6 310.05,339.3 310.3,335.87 310.55,338.41 310.8,343.03 311.05,343.33 311.3,337.99 311.55,333.52 311.8,336.55 312.05,345.14 312.3,352.34 312.55,354.11 312.8,349.57 313.05,338.9 313.3,325.64 313.55,317.76 313.8,321.26 314.05,333.33 314.3,345.75 314.55,353.41 314.8,356.56 315.05,357.43 315.3,357.56 315.55,357.53 315.8,357.48 316.05,357.42 316.3,357.36 316.55,357.3 316.8,357.25 317.05,357.19 317.3,357.13 317.55,357.06 317.8,356.97 318.05,356.78 318.3,356.31 318.55,355.27 318.8,353.55 319.05,351.51 319.3,350.09 319.55,350.02 319.8,350.99 320.05,351.88 320.3,351.87 320.55,351.19 320.8,350.87 321.05,351.58 321.3,353.08 321.55,354.58 321.8,355.59 322.05,356.06 322.3,356.21 322.55,356.23 322.8,356.18 323.05,355.93 323.3,354.97 323.55,352.15 323.8,346.35 324.05,338.54 324.3,332.89 324.55,333.57 324.8,340.01 325.05,347.62 325.3,352.75 325.55,355.04 325.8,355.73 326.05,355.86 326.3,355.85 326.55,355.77 326.8,355.56 327.05,355.02 327.3,354.01 327.55,352.61 327.8,351.38 328.05,351.02 328.3,351.74 328.55,353.08 328.8,354.31 329.05,355.08 329.3,355.41 329.55,355.5 329.8,355.47 330.05,355.33 330.3,354.9 330.55,353.95 330.8,352.32 331.05,350.42 331.3,349.14 331.55,349.26 331.8,350.7 332.05,352.56 332.3,354.01 332.55,354.79 332.8,355.09 333.05,355.17 333.3,355.15 333.55,355.08 333.8,354.9 334.05,354.44 334.3,353.57 334.55,352.38 334.8,351.33 335.05,351.01 335.3,351.63 335.55,352.76 335.8,353.81 336.05,354.45 336.3,354.73 336.55,354.81 336.8,354.81 337.05,354.79 337.3,354.77 337.55,354.74 337.8,354.71 338.05,354.65 338.3,354.49 338.55,354.08 338.8,353.19 339.05,351.79 339.3,350.28 339.55,349.43 339.8,349.78 340.05,351.08 340.3,352.6 340.55,353.71 340.8,354.29 341.05,354.53 341.3,354.61 341.55,354.65 341.8,354.68 342.05,354.7 342.3,354.72 342.55,354.71 342.8,354.62 343.05,354.33 343.3,353.74 343.55,352.92 343.8,352.2 344.05,352.02 344.3,352.51 344.55,353.37 344.8,354.17 345.05,354.69 345.3,354.93 345.55,355.03 345.8,355.08 346.05,355.1 346.3,355.13 346.55,355.15 346.8,355.18 347.05,355.2 347.3,355.23 347.55,355.25 347.8,355.28 348.05,355.3 348.3,355.33 348.55,355.35 348.8,355.38 349.05,355.4 349.3,355.43 349.55,355.43 349.8,355.36 350.05,355.01 350.3,353.93 350.55,351.33 350.8,346.5 351.05,339.74 351.3,333.09 351.55,329.6 351.8,331.19 352.05,336.99 352.3,344.09 352.55,349.87 352.8,353.36 353.05,355 353.3,355.61 353.55,355.81 353.8,355.87 354.05,355.9 354.3,355.93 354.55,355.95 354.8,355.98 355.05,356 355.3,356.03 355.55,356.04 355.8,356.02 356.05,355.87 356.3,355.29 356.55,353.64 356.8,349.86 357.05,342.87 357.3,332.58 357.55,321 357.8,312.1 358.05,309.77 358.3,315.12 358.55,325.68 358.8,337.18 359.05,346.31 359.3,351.96 359.55,354.79 359.8,355.96 360.05,356.37 360.3,356.52 360.55,356.58 360.8,356.63 361.05,356.67 361.3,356.71 361.55,356.75 361.8,356.79 362.05,356.83 362.3,356.81 362.55,356.6 362.8,355.75 363.05,353.46 363.3,348.95 363.55,342.71 363.8,337.22 364.05,335.72 364.3,339.2 364.55,345.48 364.8,351.3 365.05,354.95 365.3,356.64 365.55,357.24 365.8,357.42 366.05,357.49 366.3,357.54 366.55,357.58 366.8,357.62 367.05,357.66 367.3,357.7 367.55,357.74 367.8,357.78 368.05,357.82 368.3,357.87 368.55,357.91 368.8,357.95 369.05,357.99 369.3,358.03 369.55,358.07 369.8,358.11 370.05,358.15 370.3,358.19 370.55,358.24 370.8,358.28 371.05,358.32 371.3,358.36 371.55,358.4 371.8,358.44 372.05,358.48 372.3,358.52 372.55,358.57 372.8,358.61 373.05,358.65 373.3,358.69 373.55,358.73 373.8,358.77 374.05,358.81 374.3,358.85 374.55,358.89 374.8,358.94 375.05,358.98 375.3,359.02 375.55,359.06 375.8,359.1" stroke="#35cf96" stroke-width="0.95" fill="none" stroke-linejoin="round" opacity="1.0"/>
<path d="M223.8,391.2 224.05,391.23 224.3,391.27 224.55,391.3 224.8,391.33 225.05,391.37 225.3,391.4 225.55,391.43 225.8,391.47 226.05,391.5 226.3,391.53 226.55,391.57 226.8,391.6 227.05,391.63 227.3,391.66 227.55,391.68 227.8,391.66 228.05,391.54 228.3,391.28 228.55,390.9 228.8,390.58 229.05,390.51 229.3,390.77 229.55,391.21 229.8,391.62 230.05,391.88 230.3,392.02 230.55,392.09 230.8,392.14 231.05,392.17 231.3,392.2 231.55,392.24 231.8,392.27 232.05,392.3 232.3,392.34 232.55,392.37 232.8,392.41 233.05,392.44 233.3,392.47 233.55,392.51 233.8,392.54 234.05,392.57 234.3,392.61 234.55,392.64 234.8,392.67 235.05,392.7 235.3,392.72 235.55,392.73 235.8,392.75 236.05,392.76 236.3,392.78 236.55,392.79 236.8,392.81 237.05,392.82 237.3,392.84 237.55,392.85 237.8,392.87 238.05,392.88 238.3,392.9 238.55,392.91 238.8,392.93 239.05,392.94 239.3,392.96 239.55,392.97 239.8,392.99 240.05,393 240.3,393.02 240.55,393.03 240.8,393.05 241.05,393.06 241.3,393.08 241.55,393.09 241.8,393.11 242.05,393.12 242.3,393.14 242.55,393.15 242.8,393.17 243.05,393.18 243.3,393.2 243.55,393.21 243.8,393.23 244.05,393.24 244.3,393.26 244.55,393.27 244.8,393.29 245.05,393.3 245.3,393.32 245.55,393.33 245.8,393.35 246.05,393.36 246.3,393.38 246.55,393.39 246.8,393.41 247.05,393.42 247.3,393.44 247.55,393.45 247.8,393.47 248.05,393.48 248.3,393.5 248.55,393.51 248.8,393.53 249.05,393.54 249.3,393.56 249.55,393.57 249.8,393.59 250.05,393.6 250.3,393.61 250.55,393.62 250.8,393.63 251.05,393.64 251.3,393.65 251.55,393.66 251.8,393.68 252.05,393.69 252.3,393.7 252.55,393.71 252.8,393.72 253.05,393.73 253.3,393.74 253.55,393.75 253.8,393.76 254.05,393.77 254.3,393.78 254.55,393.79 254.8,393.8 255.05,393.81 255.3,393.82 255.55,393.83 255.8,393.84 256.05,393.85 256.3,393.86 256.55,393.87 256.8,393.88 257.05,393.89 257.3,393.9 257.55,393.91 257.8,393.93 258.05,393.94 258.3,393.95 258.55,393.96 258.8,393.97 259.05,393.98 259.3,393.99 259.55,394 259.8,394.01 260.05,394.02 260.3,394.03 260.55,394.04 260.8,394.05 261.05,394.06 261.3,394.07 261.55,394.08 261.8,394.09 262.05,394.1 262.3,394.11 262.55,394.12 262.8,394.13 263.05,394.14 263.3,394.15 263.55,394.16 263.8,394.17 264.05,394.18 264.3,394.19 264.55,394.2 264.8,394.21 265.05,394.22 265.3,394.23 265.55,394.24 265.8,394.25 266.05,394.26 266.3,394.27 266.55,394.28 266.8,394.29 267.05,394.3 267.3,394.31 267.55,394.32 267.8,394.33 268.05,394.34 268.3,394.35 268.55,394.36 268.8,394.37 269.05,394.38 269.3,394.39 269.55,394.4 269.8,394.41 270.05,394.42 270.3,394.43 270.55,394.44 270.8,394.45 271.05,394.46 271.3,394.47 271.55,394.48 271.8,394.49 272.05,394.49 272.3,394.5 272.55,394.51 272.8,394.52 273.05,394.53 273.3,394.54 273.55,394.55 273.8,394.56 274.05,394.57 274.3,394.58 274.55,394.59 274.8,394.6 275.05,394.61 275.3,394.62 275.55,394.63 275.8,394.64 276.05,394.65 276.3,394.65 276.55,394.61 276.8,394.5 277.05,394.22 277.3,393.67 277.55,392.82 277.8,391.79 278.05,390.93 278.3,390.6 278.55,390.95 278.8,391.83 279.05,392.87 279.3,393.75 279.55,394.32 279.8,394.62 280.05,394.75 280.3,394.8 280.55,394.83 280.8,394.84 281.05,394.85 281.3,394.86 281.55,394.87 281.8,394.88 282.05,394.89 282.3,394.9 282.55,394.91 282.8,394.92 283.05,394.93 283.3,394.94 283.55,394.95 283.8,394.96 284.05,394.97 284.3,394.98 284.55,394.99 284.8,395 285.05,395.01 285.3,395.02 285.55,395.03 285.8,395.03 286.05,395.04 286.3,395.05 286.55,395.06 286.8,395.07 287.05,395.08 287.3,395.09 287.55,395.1 287.8,395.11 288.05,395.12 288.3,395.13 288.55,395.14 288.8,395.15 289.05,395.16 289.3,395.17 289.55,395.18 289.8,395.19 290.05,395.2 290.3,395.2 290.55,395.2 290.8,395.19 291.05,395.19 291.3,395.19 291.55,395.19 291.8,395.19 292.05,395.19 292.3,395.18 292.55,395.18 292.8,395.18 293.05,395.18 293.3,395.18 293.55,395.18 293.8,395.17 294.05,395.17 294.3,395.17 294.55,395.17 294.8,395.17 295.05,395.17 295.3,395.16 295.55,395.16 295.8,395.16 296.05,395.16 296.3,395.16 296.55,395.16 296.8,395.15 297.05,395.15 297.3,395.15 297.55,395.15 297.8,395.15 298.05,395.15 298.3,395.14 298.55,395.14 298.8,395.14 299.05,395.14 299.3,395.14 299.55,395.14 299.8,395.13 300.05,395.13 300.3,395.13 300.55,395.13 300.8,395.13 301.05,395.13 301.3,395.12 301.55,395.11 301.8,395.06 302.05,394.94 302.3,394.7 302.55,394.37 302.8,394.09 303.05,394.01 303.3,394.18 303.55,394.5 303.8,394.8 304.05,394.98 304.3,395.07 304.55,395.09 304.8,395.1 305.05,395.1 305.3,395.1 305.55,395.1 305.8,395.09 306.05,395.09 306.3,395.09 306.55,395.09 306.8,395.09 307.05,395.09 307.3,395.08 307.55,395.08 307.8,395.08 308.05,395.08 308.3,395.08 308.55,395.08 308.8,395.07 309.05,395.07 309.3,395.07 309.55,395.07 309.8,395.07 310.05,395.07 310.3,395.06 310.55,395.06 310.8,395.06 311.05,395.06 311.3,395.06 311.55,395.06 311.8,395.05 312.05,395.05 312.3,395.05 312.55,395.05 312.8,395.05 313.05,395.05 313.3,395.04 313.55,395.04 313.8,395.04 314.05,395.04 314.3,395.04 314.55,395.04 314.8,395.03 315.05,395.03 315.3,395.03 315.55,395.03 315.8,395.03 316.05,395.03 316.3,395.02 316.55,395.02 316.8,395.02 317.05,395.02 317.3,395.02 317.55,395.01 317.8,395 318.05,394.96 318.3,394.83 318.55,394.54 318.8,394.03 319.05,393.44 319.3,393.04 319.55,393.09 319.8,393.55 320.05,394.14 320.3,394.6 320.55,394.85 320.8,394.94 321.05,394.97 321.3,394.97 321.55,394.95 321.8,394.88 322.05,394.72 322.3,394.41 322.55,393.99 322.8,393.61 323.05,393.51 323.3,393.73 323.55,394.14 323.8,394.52 324.05,394.76 324.3,394.86 324.55,394.9 324.8,394.9 325.05,394.9 325.3,394.89 325.55,394.87 325.8,394.81 326.05,394.66 326.3,394.36 326.55,393.96 326.8,393.61 327.05,393.51 327.3,393.72 327.55,394.11 327.8,394.47 328.05,394.69 328.3,394.79 328.55,394.82 328.8,394.82 329.05,394.82 329.3,394.81 329.55,394.81 329.8,394.8 330.05,394.8 330.3,394.79 330.55,394.79 330.8,394.78 331.05,394.78 331.3,394.77 331.55,394.77 331.8,394.76 332.05,394.76 332.3,394.75 332.55,394.75 332.8,394.74 333.05,394.74 333.3,394.73 333.55,394.73 333.8,394.72 334.05,394.72 334.3,394.71 334.55,394.71 334.8,394.7 335.05,394.7 335.3,394.69 335.55,394.69 335.8,394.68 336.05,394.68 336.3,394.67 336.55,394.67 336.8,394.66 337.05,394.66 337.3,394.65 337.55,394.65 337.8,394.64 338.05,394.63 338.3,394.59 338.55,394.49 338.8,394.21 339.05,393.61 339.3,392.57 339.55,391.1 339.8,389.56 340.05,388.49 340.3,388.39 340.55,389.29 340.8,390.79 341.05,392.31 341.3,393.45 341.55,394.12 341.8,394.45 342.05,394.58 342.3,394.62 342.55,394.64 342.8,394.65 343.05,394.65 343.3,394.66 343.55,394.66 343.8,394.66 344.05,394.67 344.3,394.67 344.55,394.68 344.8,394.68 345.05,394.68 345.3,394.69 345.55,394.69 345.8,394.7 346.05,394.7 346.3,394.71 346.55,394.71 346.8,394.71 347.05,394.72 347.3,394.72 347.55,394.73 347.8,394.73 348.05,394.73 348.3,394.7 348.55,394.62 348.8,394.4 349.05,393.99 349.3,393.48 349.55,393.08 349.8,393.04 350.05,393.39 350.3,393.91 350.55,394.36 350.8,394.62 351.05,394.74 351.3,394.78 351.55,394.79 351.8,394.8 352.05,394.8 352.3,394.81 352.55,394.81 352.8,394.81 353.05,394.82 353.3,394.82 353.55,394.81 353.8,394.77 354.05,394.66 354.3,394.45 354.55,394.14 354.8,393.88 355.05,393.81 355.3,393.98 355.55,394.29 355.8,394.57 356.05,394.75 356.3,394.84 356.55,394.87 356.8,394.88 357.05,394.89 357.3,394.89 357.55,394.89 357.8,394.9 358.05,394.9 358.3,394.91 358.55,394.91 358.8,394.92 359.05,394.92 359.3,394.92 359.55,394.93 359.8,394.93 360.05,394.94 360.3,394.94 360.55,394.94 360.8,394.95 361.05,394.95 361.3,394.96 361.55,394.96 361.8,394.97 362.05,394.97 362.3,394.97 362.55,394.98 362.8,394.98 363.05,394.99 363.3,394.99 363.55,394.99 363.8,395 364.05,395 364.3,395.01 364.55,395.01 364.8,395.02 365.05,395.02 365.3,395.02 365.55,395.03 365.8,395.03 366.05,395.04 366.3,395.04 366.55,395.03 366.8,395.01 367.05,394.93 367.3,394.77 367.55,394.55 367.8,394.36 368.05,394.3 368.3,394.43 368.55,394.66 368.8,394.87 369.05,395 369.3,395.06 369.55,395.09 369.8,395.1 370.05,395.1 370.3,395.11 370.55,395.11 370.8,395.12 371.05,395.12 371.3,395.12 371.55,395.13 371.8,395.13 372.05,395.14 372.3,395.14 372.55,395.15 372.8,395.15 373.05,395.15 373.3,395.16 373.55,395.16 373.8,395.17 374.05,395.17 374.3,395.17 374.55,395.18 374.8,395.18 375.05,395.19 375.3,395.19 375.55,395.2 375.8,395.2" stroke="#35cf96" stroke-width="0.95" fill="none" stroke-linejoin="round" opacity="1.0"/>
<path d="M395.2,256.3 395.45,256.3 395.7,256.3 395.95,256.3 396.2,256.3 396.45,256.3 396.7,256.3 396.95,256.3 397.2,256.3 397.45,256.3 397.7,256.3 397.95,256.3 398.2,256.3 398.45,256.3 398.7,256.3 398.95,256.3 399.2,256.3 399.45,256.3 399.7,256.3 399.95,256.3 400.2,256.3 400.45,256.3 400.7,256.3 400.95,256.3 401.2,256.3 401.45,256.3 401.7,256.3 401.95,256.3 402.2,256.3 402.45,256.3 402.7,256.3 402.95,256.3 403.2,256.3 403.45,256.3 403.7,256.3 403.95,256.3 404.2,256.3 404.45,256.3 404.7,256.3 404.95,256.3 405.2,256.3 405.45,256.3 405.7,256.3 405.95,256.3 406.2,256.3 406.45,256.3 406.7,256.3 406.95,256.3 407.2,256.3 407.45,256.3 407.7,256.3 407.95,256.3 408.2,256.3 408.45,256.3 408.7,256.3 408.95,256.3 409.2,256.3 409.45,256.29 409.7,256.26 409.95,256.21 410.2,256.09 410.45,255.87 410.7,255.54 410.95,255.12 411.2,254.67 411.45,254.33 411.7,254.2 411.95,254.33 412.2,254.67 412.45,255.12 412.7,255.54 412.95,255.87 413.2,256.09 413.45,256.21 413.7,256.26 413.95,256.29 414.2,256.3 414.45,256.3 414.7,256.3 414.95,256.3 415.2,256.3 415.45,256.3 415.7,256.3 415.95,256.3 416.2,256.3 416.45,256.3 416.7,256.3 416.95,256.3 417.2,256.3 417.45,256.3 417.7,256.3 417.95,256.3 418.2,256.3 418.45,256.3 418.7,256.3 418.95,256.3 419.2,256.3 419.45,256.29 419.7,256.25 419.95,256.02 420.2,255.03 420.45,252.07 420.7,245.94 420.95,237.68 421.2,231.71 421.45,232.45 421.7,239.28 421.95,247.23 422.2,252.31 422.45,253.94 422.7,253.49 422.95,252.47 423.2,251.98 423.45,252.44 423.7,253.52 423.95,254.51 424.2,254.98 424.45,254.93 424.7,254.66 424.95,254.5 425.2,254.6 425.45,254.94 425.7,255.39 425.95,255.79 426.2,256.06 426.45,256.2 426.7,256.27 426.95,256.29 427.2,256.3 427.45,256.3 427.7,256.3 427.95,256.3 428.2,256.3 428.45,256.3 428.7,256.3 428.95,256.3 429.2,256.3 429.45,256.3 429.7,256.3 429.95,256.3 430.2,256.3 430.45,256.3 430.7,256.3 430.95,256.3 431.2,256.3 431.45,256.3 431.7,256.3 431.95,256.3 432.2,256.3 432.45,256.3 432.7,256.3 432.95,256.3 433.2,256.3 433.45,256.3 433.7,256.3 433.95,256.3 434.2,256.3 434.45,256.3 434.7,256.3 434.95,256.3 435.2,256.3 435.45,256.3 435.7,256.3 435.95,256.3 436.2,256.3 436.45,256.3 436.7,256.3 436.95,256.3 437.2,256.3 437.45,256.3 437.7,256.3 437.95,256.3 438.2,256.3 438.45,256.3 438.7,256.3 438.95,256.3 439.2,256.3 439.45,256.3 439.7,256.3 439.95,256.3 440.2,256.3 440.45,256.3 440.7,256.3 440.95,256.3 441.2,256.3 441.45,256.3 441.7,256.3 441.95,256.3 442.2,256.3 442.45,256.3 442.7,256.3 442.95,256.3 443.2,256.3 443.45,256.3 443.7,256.3 443.95,256.3 444.2,256.3 444.45,256.3 444.7,256.3 444.95,256.3 445.2,256.3 445.45,256.3" stroke="#7fe2c0" stroke-width="0.9" fill="none" stroke-linejoin="round" opacity="1.0"/>
<path d="M395.2,297.9 395.45,297.9 395.7,297.9 395.95,297.9 396.2,297.9 396.45,297.9 396.7,297.9 396.95,297.9 397.2,297.9 397.45,297.9 397.7,297.9 397.95,297.9 398.2,297.9 398.45,297.9 398.7,297.9 398.95,297.9 399.2,297.9 399.45,297.9 399.7,297.9 399.95,297.9 400.2,297.9 400.45,297.9 400.7,297.9 400.95,297.9 401.2,297.9 401.45,297.9 401.7,297.9 401.95,297.9 402.2,297.9 402.45,297.9 402.7,297.9 402.95,297.9 403.2,297.9 403.45,297.9 403.7,297.9 403.95,297.9 404.2,297.9 404.45,297.9 404.7,297.9 404.95,297.9 405.2,297.9 405.45,297.9 405.7,297.9 405.95,297.9 406.2,297.9 406.45,297.9 406.7,297.9 406.95,297.9 407.2,297.9 407.45,297.9 407.7,297.9 407.95,297.9 408.2,297.9 408.45,297.9 408.7,297.9 408.95,297.9 409.2,297.9 409.45,297.89 409.7,297.87 409.95,297.83 410.2,297.74 410.45,297.58 410.7,297.32 410.95,297 411.2,296.66 411.45,296.4 411.7,296.3 411.95,296.4 412.2,296.66 412.45,297 412.7,297.32 412.95,297.58 413.2,297.74 413.45,297.83 413.7,297.87 413.95,297.89 414.2,297.9 414.45,297.9 414.7,297.9 414.95,297.9 415.2,297.9 415.45,297.9 415.7,297.9 415.95,297.9 416.2,297.9 416.45,297.9 416.7,297.9 416.95,297.9 417.2,297.9 417.45,297.9 417.7,297.9 417.95,297.9 418.2,297.9 418.45,297.9 418.7,297.9 418.95,297.9 419.2,297.9 419.45,297.9 419.7,297.89 419.95,297.83 420.2,297.52 420.45,296.28 420.7,292.83 420.95,286.24 421.2,278.2 421.45,273.45 421.7,275.61 421.95,282.96 422.2,290.48 422.45,294.99 422.7,296.53 422.95,296.45 423.2,295.88 423.45,295.51 423.7,295.68 423.95,296.3 424.2,297 424.45,297.5 424.7,297.75 424.95,297.82 425.2,297.81 425.45,297.73 425.7,297.61 425.95,297.44 426.2,297.23 426.45,297.03 426.7,296.87 426.95,296.8 427.2,296.83 427.45,296.96 427.7,297.15 427.95,297.36 428.2,297.54 428.45,297.69 428.7,297.78 428.95,297.84 429.2,297.87 429.45,297.89 429.7,297.9 429.95,297.9 430.2,297.9 430.45,297.9 430.7,297.9 430.95,297.9 431.2,297.9 431.45,297.9 431.7,297.9 431.95,297.9 432.2,297.9 432.45,297.9 432.7,297.9 432.95,297.9 433.2,297.9 433.45,297.9 433.7,297.9 433.95,297.9 434.2,297.9 434.45,297.9 434.7,297.9 434.95,297.9 435.2,297.9 435.45,297.9 435.7,297.9 435.95,297.9 436.2,297.9 436.45,297.9 436.7,297.9 436.95,297.9 437.2,297.9 437.45,297.9 437.7,297.9 437.95,297.9 438.2,297.9 438.45,297.9 438.7,297.9 438.95,297.9 439.2,297.9 439.45,297.9 439.7,297.9 439.95,297.9 440.2,297.9 440.45,297.9 440.7,297.9 440.95,297.9 441.2,297.9 441.45,297.9 441.7,297.9 441.95,297.9 442.2,297.9 442.45,297.9 442.7,297.9 442.95,297.9 443.2,297.9 443.45,297.9 443.7,297.9 443.95,297.9 444.2,297.9 444.45,297.9 444.7,297.9 444.95,297.9 445.2,297.9 445.45,297.9" stroke="#7fe2c0" stroke-width="0.9" fill="none" stroke-linejoin="round" opacity="1.0"/>
<path d="M395.2,359.4 395.45,359.4 395.7,359.4 395.95,359.4 396.2,359.4 396.45,359.4 396.7,359.4 396.95,359.4 397.2,359.4 397.45,359.4 397.7,359.4 397.95,359.4 398.2,359.4 398.45,359.4 398.7,359.4 398.95,359.4 399.2,359.4 399.45,359.4 399.7,359.4 399.95,359.4 400.2,359.4 400.45,359.4 400.7,359.4 400.95,359.4 401.2,359.4 401.45,359.4 401.7,359.4 401.95,359.4 402.2,359.4 402.45,359.4 402.7,359.4 402.95,359.4 403.2,359.4 403.45,359.4 403.7,359.4 403.95,359.4 404.2,359.4 404.45,359.4 404.7,359.4 404.95,359.4 405.2,359.4 405.45,359.4 405.7,359.4 405.95,359.4 406.2,359.4 406.45,359.4 406.7,359.4 406.95,359.4 407.2,359.4 407.45,359.4 407.7,359.4 407.95,359.4 408.2,359.4 408.45,359.4 408.7,359.4 408.95,359.4 409.2,359.4 409.45,359.4 409.7,359.4 409.95,359.39 410.2,359.37 410.45,359.33 410.7,359.26 410.95,359.14 411.2,358.98 411.45,358.81 411.7,358.67 411.95,358.6 412.2,358.63 412.45,358.75 412.7,358.91 412.95,359.08 413.2,359.22 413.45,359.31 413.7,359.36 413.95,359.38 414.2,359.39 414.45,359.4 414.7,359.4 414.95,359.4 415.2,359.4 415.45,359.4 415.7,359.4 415.95,359.4 416.2,359.4 416.45,359.4 416.7,359.4 416.95,359.4 417.2,359.4 417.45,359.4 417.7,359.4 417.95,359.4 418.2,359.4 418.45,359.4 418.7,359.4 418.95,359.4 419.2,359.4 419.45,359.4 419.7,359.4 419.95,359.4 420.2,359.38 420.45,359.25 420.7,358.72 420.95,357.15 421.2,353.89 421.45,349.5 421.7,346.33 421.95,346.72 422.2,350.37 422.45,354.68 422.7,357.58 422.95,358.88 423.2,359.26 423.45,359.31 423.7,359.24 423.95,359.11 424.2,358.93 424.45,358.74 424.7,358.58 424.95,358.5 425.2,358.54 425.45,358.67 425.7,358.85 425.95,359.04 426.2,359.19 426.45,359.29 426.7,359.35 426.95,359.38 427.2,359.39 427.45,359.4 427.7,359.4 427.95,359.4 428.2,359.4 428.45,359.4 428.7,359.4 428.95,359.4 429.2,359.4 429.45,359.4 429.7,359.4 429.95,359.4 430.2,359.4 430.45,359.4 430.7,359.4 430.95,359.4 431.2,359.4 431.45,359.4 431.7,359.4 431.95,359.4 432.2,359.4 432.45,359.4 432.7,359.4 432.95,359.4 433.2,359.4 433.45,359.4 433.7,359.4 433.95,359.4 434.2,359.4 434.45,359.4 434.7,359.4 434.95,359.4 435.2,359.4 435.45,359.4 435.7,359.4 435.95,359.4 436.2,359.4 436.45,359.4 436.7,359.4 436.95,359.4 437.2,359.4 437.45,359.4 437.7,359.4 437.95,359.4 438.2,359.4 438.45,359.4 438.7,359.4 438.95,359.4 439.2,359.4 439.45,359.4 439.7,359.4 439.95,359.4 440.2,359.4 440.45,359.4 440.7,359.4 440.95,359.4 441.2,359.4 441.45,359.4 441.7,359.4 441.95,359.4 442.2,359.4 442.45,359.4 442.7,359.4 442.95,359.4 443.2,359.4 443.45,359.4 443.7,359.4 443.95,359.4 444.2,359.4 444.45,359.4 444.7,359.4 444.95,359.4 445.2,359.4 445.45,359.4" stroke="#7fe2c0" stroke-width="0.9" fill="none" stroke-linejoin="round" opacity="1.0"/>
<path d="M395.2,395.1 395.45,395.1 395.7,395.1 395.95,395.1 396.2,395.1 396.45,395.1 396.7,395.1 396.95,395.1 397.2,395.1 397.45,395.1 397.7,395.1 397.95,395.1 398.2,395.1 398.45,395.1 398.7,395.1 398.95,395.1 399.2,395.1 399.45,395.1 399.7,395.1 399.95,395.1 400.2,395.1 400.45,395.1 400.7,395.1 400.95,395.1 401.2,395.1 401.45,395.1 401.7,395.1 401.95,395.1 402.2,395.1 402.45,395.1 402.7,395.1 402.95,395.1 403.2,395.1 403.45,395.1 403.7,395.1 403.95,395.1 404.2,395.1 404.45,395.1 404.7,395.1 404.95,395.1 405.2,395.1 405.45,395.1 405.7,395.1 405.95,395.1 406.2,395.1 406.45,395.1 406.7,395.1 406.95,395.1 407.2,395.1 407.45,395.1 407.7,395.1 407.95,395.1 408.2,395.1 408.45,395.1 408.7,395.1 408.95,395.1 409.2,395.1 409.45,395.1 409.7,395.09 409.95,395.06 410.2,394.98 410.45,394.78 410.7,394.4 410.95,393.82 411.2,393.12 411.45,392.53 411.7,392.3 411.95,392.53 412.2,393.12 412.45,393.82 412.7,394.4 412.95,394.78 413.2,394.98 413.45,395.06 413.7,395.09 413.95,395.1 414.2,395.1 414.45,395.1 414.7,395.1 414.95,395.1 415.2,395.1 415.45,395.1 415.7,395.1 415.95,395.1 416.2,395.1 416.45,395.1 416.7,395.1 416.95,395.1 417.2,395.1 417.45,395.1 417.7,395.1 417.95,395.1 418.2,395.1 418.45,395.1 418.7,395.1 418.95,395.1 419.2,395.1 419.45,395.09 419.7,395.04 419.95,394.75 420.2,393.5 420.45,389.76 420.7,382.03 420.95,371.59 421.2,364.02 421.45,364.75 421.7,372.78 421.95,381.52 422.2,385.88 422.45,385.98 422.7,384.95 422.95,385.41 423.2,387.76 423.45,390.76 423.7,393.1 423.95,394.36 424.2,394.82 424.45,394.79 424.7,394.43 424.95,393.79 425.2,393.1 425.45,392.71 425.7,392.88 425.95,393.5 426.2,394.2 426.45,394.71 426.7,394.97 426.95,395.06 427.2,395.09 427.45,395.1 427.7,395.1 427.95,395.1 428.2,395.1 428.45,395.1 428.7,395.1 428.95,395.1 429.2,395.1 429.45,395.1 429.7,395.1 429.95,395.1 430.2,395.1 430.45,395.1 430.7,395.1 430.95,395.1 431.2,395.1 431.45,395.1 431.7,395.1 431.95,395.1 432.2,395.1 432.45,395.1 432.7,395.1 432.95,395.1 433.2,395.1 433.45,395.1 433.7,395.1 433.95,395.1 434.2,395.1 434.45,395.1 434.7,395.1 434.95,395.1 435.2,395.1 435.45,395.1 435.7,395.1 435.95,395.1 436.2,395.1 436.45,395.1 436.7,395.1 436.95,395.1 437.2,395.1 437.45,395.1 437.7,395.1 437.95,395.1 438.2,395.1 438.45,395.1 438.7,395.1 438.95,395.1 439.2,395.1 439.45,395.1 439.7,395.1 439.95,395.1 440.2,395.1 440.45,395.1 440.7,395.1 440.95,395.1 441.2,395.1 441.45,395.1 441.7,395.1 441.95,395.1 442.2,395.1 442.45,395.1 442.7,395.1 442.95,395.1 443.2,395.1 443.45,395.1 443.7,395.1 443.95,395.1 444.2,395.1 444.45,395.1 444.7,395.1 444.95,395.1 445.2,395.1 445.45,395.1" stroke="#7fe2c0" stroke-width="0.9" fill="none" stroke-linejoin="round" opacity="1.0"/>
<text x="400.4" y="235.5" font-size="7" text-anchor="start" fill="#1e1e1e" class="sm"  style="">BV</text>
<line x1="411.3" y1="236.3" x2="416.8" y2="241.8" stroke="#e8202a" stroke-width="1.1"/>
<polygon points="418.3,243.3 414.8,241.6 416.6,239.8" fill="#e8202a"/>
<line x1="222.4" y1="409.2" x2="377.5" y2="409.2" stroke="#555" stroke-width="1.0" />
<line x1="229.7" y1="409.2" x2="229.7" y2="411.4" stroke="#555" stroke-width="0.9" />
<text x="0" y="0" transform="translate(229.7 417.9) scale(1 1.1)" font-size="7.3" text-anchor="middle" fill="#1e1e1e" class="sm"  style="">5</text>
<line x1="259.08" y1="409.2" x2="259.08" y2="411.4" stroke="#555" stroke-width="0.9" />
<text x="0" y="0" transform="translate(259.08 417.9) scale(1 1.1)" font-size="7.3" text-anchor="middle" fill="#1e1e1e" class="sm"  style="">10</text>
<line x1="288.46" y1="409.2" x2="288.46" y2="411.4" stroke="#555" stroke-width="0.9" />
<text x="0" y="0" transform="translate(288.46 417.9) scale(1 1.1)" font-size="7.3" text-anchor="middle" fill="#1e1e1e" class="sm"  style="">15</text>
<line x1="317.84" y1="409.2" x2="317.84" y2="411.4" stroke="#555" stroke-width="0.9" />
<text x="0" y="0" transform="translate(317.84 417.9) scale(1 1.1)" font-size="7.3" text-anchor="middle" fill="#1e1e1e" class="sm"  style="">20</text>
<line x1="347.22" y1="409.2" x2="347.22" y2="411.4" stroke="#555" stroke-width="0.9" />
<text x="0" y="0" transform="translate(347.22 417.9) scale(1 1.1)" font-size="7.3" text-anchor="middle" fill="#1e1e1e" class="sm"  style="">25</text>
<line x1="376.6" y1="409.2" x2="376.6" y2="411.4" stroke="#555" stroke-width="0.9" />
<text x="0" y="0" transform="translate(376.6 417.9) scale(1 1.1)" font-size="7.3" text-anchor="middle" fill="#1e1e1e" class="sm"  style="">30</text>
<line x1="244.39" y1="409.2" x2="244.39" y2="410.5" stroke="#555" stroke-width="0.8" />
<line x1="273.77" y1="409.2" x2="273.77" y2="410.5" stroke="#555" stroke-width="0.8" />
<line x1="303.15" y1="409.2" x2="303.15" y2="410.5" stroke="#555" stroke-width="0.8" />
<line x1="332.53" y1="409.2" x2="332.53" y2="410.5" stroke="#555" stroke-width="0.8" />
<line x1="361.91" y1="409.2" x2="361.91" y2="410.5" stroke="#555" stroke-width="0.8" />
<line x1="395.2" y1="409.6" x2="446.2" y2="409.6" stroke="#555" stroke-width="1.0" />
<line x1="395.4" y1="409.6" x2="395.4" y2="411.8" stroke="#555" stroke-width="0.9" />
<text x="0" y="0" transform="translate(395.4 418.3) scale(1 1.1)" font-size="7.3" text-anchor="middle" fill="#1e1e1e" class="sm"  style="">30</text>
<line x1="420.9" y1="409.6" x2="420.9" y2="411.8" stroke="#555" stroke-width="0.9" />
<text x="0" y="0" transform="translate(420.9 418.3) scale(1 1.1)" font-size="7.3" text-anchor="middle" fill="#1e1e1e" class="sm"  style="">35</text>
<line x1="446.4" y1="409.6" x2="446.4" y2="411.8" stroke="#555" stroke-width="0.9" />
<text x="0" y="0" transform="translate(446.4 418.3) scale(1 1.1)" font-size="7.3" text-anchor="middle" fill="#1e1e1e" class="sm"  style="">40</text>
<line x1="408.15" y1="409.6" x2="408.15" y2="410.9" stroke="#555" stroke-width="0.8" />
<line x1="433.65" y1="409.6" x2="433.65" y2="410.9" stroke="#555" stroke-width="0.8" />
<text x="326.5" y="430.8" font-size="8.9" text-anchor="middle" fill="#1e1e1e" class="sm"  style="">Retention time (min)</text>
<text x="496.5" y="271.6" font-size="6.85" text-anchor="start" fill="#1e1e1e" class="sm"  style="">zoom 10-fold</text>
<circle cx="547.6" cy="265.5" r="4.9" fill="none" stroke="#111" stroke-width="1.1"/>
<line x1="544.56" y1="265.5" x2="550.64" y2="265.5" stroke="#111" stroke-width="1.045" />
<line x1="547.5" y1="262.46" x2="547.5" y2="268.54" stroke="#111" stroke-width="1.045" />
<line x1="551.06" y1="268.96" x2="555.06" y2="272.96" stroke="#111" stroke-width="2.1" stroke-linecap="round"/>
<line x1="478" y1="276.3" x2="539.8" y2="276.3" stroke="#8a8a8a" stroke-width="1.1" />
<line x1="558.3" y1="276.3" x2="619.8" y2="276.3" stroke="#8a8a8a" stroke-width="1.1" />
<text class="sm" x="477" y="294.1" font-size="7" fill="#1e1e1e">+Fe<tspan font-size="4.34" dy="-2.9">2+</tspan><tspan dy="2.9"> pH 6.5, +HEDP 150 min</tspan></text>
<text class="sm" x="477" y="314.8" font-size="7" fill="#1e1e1e">+Fe<tspan font-size="4.34" dy="-2.9">2+</tspan><tspan dy="2.9"> pH 7.5, +HEDP 150 min</tspan></text>
<text class="sm" x="477" y="349.5" font-size="7" fill="#1e1e1e">+Fe<tspan font-size="4.34" dy="-2.9">2+</tspan><tspan dy="2.9"> pH 7.5, 150 min</tspan></text>
<text x="476.6" y="396.1" font-size="7" text-anchor="start" fill="#1e1e1e" class="sm"  style="">0 min</text>
<path d="M478,301.5 478.25,301.5 478.5,301.5 478.75,301.5 479,301.51 479.25,301.51 479.5,301.51 479.75,301.51 480,301.51 480.25,301.51 480.5,301.51 480.75,301.51 481,301.52 481.25,301.52 481.5,301.52 481.75,301.52 482,301.52 482.25,301.52 482.5,301.52 482.75,301.52 483,301.53 483.25,301.53 483.5,301.53 483.75,301.53 484,301.53 484.25,301.53 484.5,301.53 484.75,301.54 485,301.54 485.25,301.54 485.5,301.54 485.75,301.54 486,301.54 486.25,301.54 486.5,301.54 486.75,301.55 487,301.55 487.25,301.55 487.5,301.55 487.75,301.55 488,301.55 488.25,301.55 488.5,301.56 488.75,301.56 489,301.56 489.25,301.56 489.5,301.56 489.75,301.56 490,301.56 490.25,301.56 490.5,301.57 490.75,301.57 491,301.57 491.25,301.57 491.5,301.57 491.75,301.57 492,301.57 492.25,301.58 492.5,301.58 492.75,301.58 493,301.58 493.25,301.58 493.5,301.58 493.75,301.58 494,301.58 494.25,301.59 494.5,301.59 494.75,301.59 495,301.59 495.25,301.59 495.5,301.59 495.75,301.59 496,301.59 496.25,301.6 496.5,301.6 496.75,301.6 497,301.6 497.25,301.65 497.5,301.7 497.75,301.75 498,301.8 498.25,301.85 498.5,301.9 498.75,301.95 499,302 499.25,302.05 499.5,302.1 499.75,302.15 500,302.2 500.25,302.2 500.5,302.2 500.75,302.2 501,302.2 501.25,302.2 501.5,302.2 501.75,302.2 502,302.2 502.25,302.2 502.5,302.2 502.75,302.2 503,302.2 503.25,302.2 503.5,302.2 503.75,302.2 504,302.2 504.25,302.2 504.5,302.2 504.75,302.2 505,302.2 505.25,302.2 505.5,302.2 505.75,302.2 506,302.2 506.25,302.2 506.5,302.2 506.75,302.2 507,302.2 507.25,302.2 507.5,302.2 507.75,302.2 508,302.2 508.25,302.2 508.5,302.2 508.75,302.2 509,302.2 509.25,302.2 509.5,302.2 509.75,302.2 510,302.2 510.25,302.2 510.5,302.2 510.75,302.2 511,302.2 511.25,302.2 511.5,302.2 511.75,302.2 512,302.2 512.25,302.2 512.5,302.2 512.75,302.2 513,302.2 513.25,302.2 513.5,302.2 513.75,302.2 514,302.2 514.25,302.2 514.5,302.2 514.75,302.2 515,302.2 515.25,302.2 515.5,302.2 515.75,302.2 516,302.2 516.25,302.2 516.5,302.2 516.75,302.2 517,302.2 517.25,302.2 517.5,302.2 517.75,302.2 518,302.2 518.25,302.2 518.5,302.2 518.75,302.2 519,302.2 519.25,302.2 519.5,302.2 519.75,302.2 520,302.2 520.25,302.2 520.5,302.2 520.75,302.2 521,302.2 521.25,302.2 521.5,302.2 521.75,302.2 522,302.2 522.25,302.2 522.5,302.2 522.75,302.2 523,302.2 523.25,302.2 523.5,302.2 523.75,302.2 524,302.2 524.25,302.2 524.5,302.2 524.75,302.2 525,302.2 525.25,302.2 525.5,302.2 525.75,302.2 526,302.2 526.25,302.2 526.5,302.2 526.75,302.2 527,302.2 527.25,302.2 527.5,302.2 527.75,302.2 528,302.2 528.25,302.2 528.5,302.2 528.75,302.2 529,302.2 529.25,302.2 529.5,302.2 529.75,302.2 530,302.2 530.25,302.2 530.5,302.2 530.75,302.2 531,302.2 531.25,302.2 531.5,302.2 531.75,302.2 532,302.2 532.25,302.2 532.5,302.2 532.75,302.2 533,302.2 533.25,302.2 533.5,302.2 533.75,302.2 534,302.2 534.25,302.2 534.5,302.2 534.75,302.2 535,302.2 535.25,302.2 535.5,302.2 535.75,302.2 536,302.2 536.25,302.2 536.5,302.2 536.75,302.2 537,302.2 537.25,302.2 537.5,302.2 537.75,302.2 538,302.2 538.25,302.2 538.5,302.2 538.75,302.2 539,302.2 539.25,302.2 539.5,302.2 539.75,302.2 540,302.2 540.25,302.2 540.5,302.2 540.75,302.2 541,302.2 541.25,302.2 541.5,302.2 541.75,302.2 542,302.2 542.25,302.2 542.5,302.2 542.75,302.2 543,302.2 543.25,302.2 543.5,302.2 543.75,302.2 544,302.2 544.25,302.2 544.5,302.2 544.75,302.2 545,302.2 545.25,302.2 545.5,302.2 545.75,302.2 546,302.2 546.25,302.2 546.5,302.2 546.75,302.2 547,302.2 547.25,302.2 547.5,302.2 547.75,302.2 548,302.2 548.25,302.2 548.5,302.2 548.75,302.2 549,302.2 549.25,302.2 549.5,302.2 549.75,302.2 550,302.2 550.25,302.2 550.5,302.2 550.75,302.2 551,302.2 551.25,302.2 551.5,302.2 551.75,302.2 552,302.2 552.25,302.2 552.5,302.2 552.75,302.2 553,302.2 553.25,302.2 553.5,302.2 553.75,302.2 554,302.2 554.25,302.2 554.5,302.2 554.75,302.2 555,302.2 555.25,302.2 555.5,302.2 555.75,302.2 556,302.2 556.25,302.2 556.5,302.2 556.75,302.2 557,302.2 557.25,302.2 557.5,302.2 557.75,302.2 558,302.2 558.25,302.2 558.5,302.2 558.75,302.2 559,302.2 559.25,302.2 559.5,302.2 559.75,302.2 560,302.2 560.25,302.2 560.5,302.2 560.75,302.2 561,302.2 561.25,302.2 561.5,302.2 561.75,302.2 562,302.2 562.25,302.2 562.5,302.2 562.75,302.2 563,302.2 563.25,302.2 563.5,302.2 563.75,302.2 564,302.2 564.25,302.2 564.5,302.2 564.75,302.2 565,302.2 565.25,302.2 565.5,302.2 565.75,302.2 566,302.2 566.25,302.2 566.5,302.2 566.75,302.2 567,302.2 567.25,302.2 567.5,302.2 567.75,302.2 568,302.2 568.25,302.2 568.5,302.2 568.75,302.2 569,302.2 569.25,302.2 569.5,302.2 569.75,302.2 570,302.2 570.25,302.19 570.5,302.19 570.75,302.18 571,302.18 571.25,302.17 571.5,302.16 571.75,302.16 572,302.15 572.25,302.15 572.5,302.14 572.75,302.14 573,302.13 573.25,302.12 573.5,302.12 573.75,302.11 574,302.11 574.25,302.1 574.5,302.09 574.75,302.09 575,302.08 575.25,302.08 575.5,302.07 575.75,302.07 576,302.06 576.25,302.05 576.5,302.05 576.75,302.04 577,302.04 577.25,302.03 577.5,302.02 577.75,302.02 578,302.01 578.25,302.01 578.5,302 578.75,301.99 579,301.99 579.25,301.97 579.5,301.95 579.75,301.92 580,301.85 580.25,301.73 580.5,301.55 580.75,301.3 581,301.02 581.25,300.73 581.5,300.51 581.75,300.4 582,300.44 582.25,300.61 582.5,300.87 582.75,301.15 583,301.4 583.25,301.59 583.5,301.72 583.75,301.79 584,301.81 584.25,301.8 584.5,301.75 584.75,301.67 585,301.56 585.25,301.44 585.5,301.32 585.75,301.24 586,301.2 586.25,301.22 586.5,301.3 586.75,301.41 587,301.52 587.25,301.61 587.5,301.68 587.75,301.73 588,301.75 588.25,301.76 588.5,301.76 588.75,301.76 589,301.76 589.25,301.75 589.5,301.74 589.75,301.74 590,301.73 590.25,301.73 590.5,301.72 590.75,301.72 591,301.71 591.25,301.7 591.5,301.7 591.75,301.69 592,301.69 592.25,301.68 592.5,301.68 592.75,301.67 593,301.66 593.25,301.66 593.5,301.65 593.75,301.65 594,301.64 594.25,301.63 594.5,301.63 594.75,301.62 595,301.62 595.25,301.61 595.5,301.61 595.75,301.6 596,301.59 596.25,301.59 596.5,301.58 596.75,301.58 597,301.57 597.25,301.56 597.5,301.56 597.75,301.55 598,301.55 598.25,301.54 598.5,301.54 598.75,301.53 599,301.52 599.25,301.52 599.5,301.51 599.75,301.51 600,301.5 600.25,301.49 600.5,301.48 600.75,301.47 601,301.46 601.25,301.45 601.5,301.44 601.75,301.43 602,301.37 602.25,301.13 602.5,300.28 602.75,298.06 603,294.18 603.25,289.92 603.5,288 603.75,289.9 604,294.14 604.25,298.01 604.5,300.2 604.75,301.04 605,301.26 605.25,301.3 605.5,301.3 605.75,301.29 606,301.28 606.25,301.26 606.5,301.23 606.75,301.17 607,301.02 607.25,300.74 607.5,300.28 607.75,299.71 608,299.18 608.25,298.91 608.5,299.02 608.75,299.45 609,300.01 609.25,300.5 609.5,300.84 609.75,301.02 610,301.09 610.25,301.1 610.5,301.04 610.75,300.71 611,299.5 611.25,296.41 611.5,290.96 611.75,284.99 612,282.3 612.25,284.97 612.5,290.92 612.75,296.35 613,299.43 613.25,300.61 613.5,300.93 613.75,300.98 614,300.98 614.25,300.97 614.5,300.96 614.75,300.95 615,300.94 615.25,300.94 615.5,300.93 615.75,300.92 616,300.91 616.25,300.9 616.5,300.89 616.75,300.88 617,300.87 617.25,300.86 617.5,300.85 617.75,300.84 618,300.83 618.25,300.82 618.5,300.81 618.75,300.81" stroke="#f39a58" stroke-width="0.95" fill="none" stroke-linejoin="round" opacity="1.0"/>
<path d="M478.3,327.5 478.55,327.5 478.8,327.5 479.05,327.5 479.3,327.51 479.55,327.51 479.8,327.51 480.05,327.51 480.3,327.51 480.55,327.51 480.8,327.52 481.05,327.52 481.3,327.52 481.55,327.52 481.8,327.52 482.05,327.52 482.3,327.53 482.55,327.53 482.8,327.53 483.05,327.53 483.3,327.53 483.55,327.53 483.8,327.54 484.05,327.54 484.3,327.54 484.55,327.54 484.8,327.54 485.05,327.54 485.3,327.55 485.55,327.55 485.8,327.55 486.05,327.55 486.3,327.55 486.55,327.55 486.8,327.56 487.05,327.56 487.3,327.56 487.55,327.56 487.8,327.56 488.05,327.56 488.3,327.56 488.55,327.57 488.8,327.57 489.05,327.57 489.3,327.57 489.55,327.57 489.8,327.57 490.05,327.58 490.3,327.58 490.55,327.58 490.8,327.58 491.05,327.58 491.3,327.58 491.55,327.59 491.8,327.59 492.05,327.59 492.3,327.59 492.55,327.59 492.8,327.59 493.05,327.6 493.3,327.6 493.55,327.6 493.8,327.6 494.05,327.6 494.3,327.6 494.55,327.61 494.8,327.61 495.05,327.61 495.3,327.61 495.55,327.61 495.8,327.61 496.05,327.62 496.3,327.62 496.55,327.62 496.8,327.62 497.05,327.62 497.3,327.62 497.55,327.62 497.8,327.63 498.05,327.63 498.3,327.63 498.55,327.63 498.8,327.63 499.05,327.63 499.3,327.64 499.55,327.64 499.8,327.64 500.05,327.64 500.3,327.64 500.55,327.64 500.8,327.65 501.05,327.65 501.3,327.65 501.55,327.65 501.8,327.65 502.05,327.65 502.3,327.66 502.55,327.66 502.8,327.66 503.05,327.66 503.3,327.66 503.55,327.66 503.8,327.67 504.05,327.67 504.3,327.67 504.55,327.67 504.8,327.67 505.05,327.67 505.3,327.68 505.55,327.68 505.8,327.68 506.05,327.68 506.3,327.68 506.55,327.68 506.8,327.68 507.05,327.69 507.3,327.69 507.55,327.69 507.8,327.69 508.05,327.69 508.3,327.69 508.55,327.7 508.8,327.7 509.05,327.7 509.3,327.7 509.55,327.7 509.8,327.7 510.05,327.71 510.3,327.71 510.55,327.71 510.8,327.71 511.05,327.71 511.3,327.71 511.55,327.72 511.8,327.72 512.05,327.72 512.3,327.72 512.55,327.72 512.8,327.72 513.05,327.73 513.3,327.73 513.55,327.73 513.8,327.73 514.05,327.73 514.3,327.73 514.55,327.74 514.8,327.74 515.05,327.74 515.3,327.74 515.55,327.74 515.8,327.74 516.05,327.74 516.3,327.75 516.55,327.75 516.8,327.75 517.05,327.75 517.3,327.75 517.55,327.75 517.8,327.76 518.05,327.76 518.3,327.76 518.55,327.76 518.8,327.76 519.05,327.76 519.3,327.77 519.55,327.77 519.8,327.77 520.05,327.77 520.3,327.77 520.55,327.77 520.8,327.78 521.05,327.78 521.3,327.78 521.55,327.78 521.8,327.78 522.05,327.78 522.3,327.79 522.55,327.79 522.8,327.79 523.05,327.79 523.3,327.79 523.55,327.79 523.8,327.79 524.05,327.8 524.3,327.8 524.55,327.8 524.8,327.8 525.05,327.8 525.3,327.8 525.55,327.81 525.8,327.81 526.05,327.81 526.3,327.81 526.55,327.81 526.8,327.81 527.05,327.82 527.3,327.82 527.55,327.82 527.8,327.82 528.05,327.82 528.3,327.82 528.55,327.83 528.8,327.83 529.05,327.83 529.3,327.83 529.55,327.83 529.8,327.83 530.05,327.84 530.3,327.84 530.55,327.84 530.8,327.84 531.05,327.84 531.3,327.84 531.55,327.85 531.8,327.85 532.05,327.85 532.3,327.85 532.55,327.85 532.8,327.85 533.05,327.85 533.3,327.86 533.55,327.86 533.8,327.86 534.05,327.86 534.3,327.86 534.55,327.86 534.8,327.87 535.05,327.87 535.3,327.87 535.55,327.87 535.8,327.87 536.05,327.87 536.3,327.88 536.55,327.88 536.8,327.88 537.05,327.88 537.3,327.88 537.55,327.88 537.8,327.89 538.05,327.89 538.3,327.89 538.55,327.89 538.8,327.89 539.05,327.89 539.3,327.9 539.55,327.9 539.8,327.9 540.05,327.9 540.3,327.89 540.55,327.89 540.8,327.88 541.05,327.87 541.3,327.87 541.55,327.86 541.8,327.85 542.05,327.85 542.3,327.84 542.55,327.83 542.8,327.83 543.05,327.82 543.3,327.81 543.55,327.81 543.8,327.8 544.05,327.79 544.3,327.79 544.55,327.78 544.8,327.77 545.05,327.77 545.3,327.76 545.55,327.75 545.8,327.75 546.05,327.74 546.3,327.73 546.55,327.73 546.8,327.72 547.05,327.71 547.3,327.71 547.55,327.7 547.8,327.69 548.05,327.69 548.3,327.68 548.55,327.67 548.8,327.67 549.05,327.66 549.3,327.65 549.55,327.65 549.8,327.64 550.05,327.63 550.3,327.63 550.55,327.62 550.8,327.61 551.05,327.61 551.3,327.6 551.55,327.59 551.8,327.59 552.05,327.58 552.3,327.57 552.55,327.57 552.8,327.56 553.05,327.55 553.3,327.55 553.55,327.54 553.8,327.53 554.05,327.53 554.3,327.52 554.55,327.51 554.8,327.51 555.05,327.5 555.3,327.49 555.55,327.49 555.8,327.48 556.05,327.47 556.3,327.47 556.55,327.46 556.8,327.45 557.05,327.45 557.3,327.44 557.55,327.43 557.8,327.43 558.05,327.42 558.3,327.41 558.55,327.41 558.8,327.4 559.05,327.39 559.3,327.39 559.55,327.38 559.8,327.37 560.05,327.37 560.3,327.36 560.55,327.35 560.8,327.35 561.05,327.34 561.3,327.33 561.55,327.33 561.8,327.32 562.05,327.31 562.3,327.31 562.55,327.3 562.8,327.29 563.05,327.29 563.3,327.28 563.55,327.27 563.8,327.27 564.05,327.26 564.3,327.25 564.55,327.25 564.8,327.24 565.05,327.23 565.3,327.23 565.55,327.22 565.8,327.21 566.05,327.21 566.3,327.2 566.55,327.19 566.8,327.19 567.05,327.18 567.3,327.17 567.55,327.17 567.8,327.16 568.05,327.15 568.3,327.15 568.55,327.14 568.8,327.13 569.05,327.13 569.3,327.12 569.55,327.11 569.8,327.11 570.05,327.1 570.3,327.09 570.55,327.09 570.8,327.08 571.05,327.07 571.3,327.07 571.55,327.06 571.8,327.05 572.05,327.05 572.3,327.04 572.55,327.03 572.8,327.03 573.05,327.02 573.3,327.01 573.55,327.01 573.8,327 574.05,326.99 574.3,326.99 574.55,326.98 574.8,326.97 575.05,326.97 575.3,326.96 575.55,326.95 575.8,326.95 576.05,326.94 576.3,326.93 576.55,326.93 576.8,326.92 577.05,326.91 577.3,326.91 577.55,326.9 577.8,326.89 578.05,326.89 578.3,326.88 578.55,326.87 578.8,326.87 579.05,326.86 579.3,326.85 579.55,326.85 579.8,326.84 580.05,326.83 580.3,326.79 580.55,326.64 580.8,326.09 581.05,324.69 581.3,322.22 581.55,319.52 581.8,318.3 582.05,319.51 582.3,322.19 582.55,324.65 582.8,326.04 583.05,326.57 583.3,326.71 583.55,326.73 583.8,326.73 584.05,326.73 584.3,326.72 584.55,326.71 584.8,326.71 585.05,326.7 585.3,326.69 585.55,326.69 585.8,326.68 586.05,326.67 586.3,326.66 586.55,326.64 586.8,326.61 587.05,326.55 587.3,326.48 587.55,326.39 587.8,326.32 588.05,326.3 588.3,326.33 588.55,326.4 588.8,326.47 589.05,326.52 589.3,326.55 589.55,326.57 589.8,326.57 590.05,326.56 590.3,326.56 590.55,326.55 590.8,326.55 591.05,326.54 591.3,326.53 591.55,326.53 591.8,326.52 592.05,326.51 592.3,326.51 592.55,326.5 592.8,326.49 593.05,326.49 593.3,326.48 593.55,326.47 593.8,326.47 594.05,326.46 594.3,326.45 594.55,326.45 594.8,326.44 595.05,326.43 595.3,326.43 595.55,326.42 595.8,326.41 596.05,326.41 596.3,326.4 596.55,326.39 596.8,326.38 597.05,326.37 597.3,326.34 597.55,326.28 597.8,326.19 598.05,326.05 598.3,325.92 598.55,325.82 598.8,325.8 599.05,325.87 599.3,325.99 599.55,326.12 599.8,326.21 600.05,326.25 600.3,326.26 600.55,326.25 600.8,326.24 601.05,326.22 601.3,326.2 601.55,326.18 601.8,326.15 602.05,326.06 602.3,325.74 602.55,324.67 602.8,322.13 603.05,318.04 603.3,314.06 603.55,312.88 603.8,315.41 604.05,319.71 604.3,323.24 604.55,325.07 604.8,325.72 605.05,325.86 605.3,325.87 605.55,325.86 605.8,325.84 606.05,325.82 606.3,325.8 606.55,325.78 606.8,325.74 607.05,325.66 607.3,325.48 607.55,325.14 607.8,324.62 608.05,324.12 608.3,323.9 608.55,324.08 608.8,324.55 609.05,325.02 609.3,325.33 609.55,325.47 609.8,325.5 610.05,325.5 610.3,325.48 610.55,325.41 610.8,325.16 611.05,324.22 611.3,321.63 611.55,316.69 611.8,310.68 612.05,307.12 612.3,308.71 612.55,314.18 612.8,319.81 613.05,323.29 613.3,324.72 613.55,325.12 613.8,325.19 614.05,325.18 614.3,325.16 614.55,325.15 614.8,325.13 615.05,325.11 615.3,325.09 615.55,325.07 615.8,325.05 616.05,325.03 616.3,325.01 616.55,324.99 616.8,324.97 617.05,324.95 617.3,324.93 617.55,324.91 617.8,324.89 618.05,324.87 618.3,324.85 618.55,324.83 618.8,324.81" stroke="#f39a58" stroke-width="0.95" fill="none" stroke-linejoin="round" opacity="1.0"/>
<path d="M478,369.4 478.25,369.41 478.5,369.42 478.75,369.44 479,369.45 479.25,369.46 479.5,369.47 479.75,369.49 480,369.5 480.25,369.51 480.5,369.52 480.75,369.54 481,369.55 481.25,369.56 481.5,369.57 481.75,369.59 482,369.6 482.25,369.61 482.5,369.62 482.75,369.64 483,369.65 483.25,369.66 483.5,369.68 483.75,369.69 484,369.7 484.25,369.71 484.5,369.72 484.75,369.74 485,369.75 485.25,369.76 485.5,369.77 485.75,369.79 486,369.8 486.25,369.81 486.5,369.82 486.75,369.84 487,369.85 487.25,369.86 487.5,369.88 487.75,369.89 488,369.9 488.25,369.91 488.5,369.93 488.75,369.94 489,369.95 489.25,369.96 489.5,369.98 489.75,369.99 490,370 490.25,370.01 490.5,370.02 490.75,370.03 491,370.04 491.25,370.05 491.5,370.06 491.75,370.07 492,370.09 492.25,370.1 492.5,370.11 492.75,370.12 493,370.13 493.25,370.14 493.5,370.15 493.75,370.16 494,370.17 494.25,370.18 494.5,370.19 494.75,370.2 495,370.21 495.25,370.23 495.5,370.24 495.75,370.25 496,370.26 496.25,370.27 496.5,370.28 496.75,370.29 497,370.3 497.25,370.19 497.5,370.08 497.75,369.97 498,369.87 498.25,369.76 498.5,369.65 498.75,369.54 499,369.43 499.25,369.32 499.5,369.22 499.75,369.1 500,368.99 500.25,368.89 500.5,368.78 500.75,368.65 501,368.5 501.25,368.32 501.5,368.12 501.75,367.92 502,367.74 502.25,367.62 502.5,367.55 502.75,367.54 503,367.57 503.25,367.5 503.5,367.42 503.75,367.31 504,367.18 504.25,367.03 504.5,366.86 504.75,366.67 505,366.43 505.25,366.09 505.5,364.79 505.75,361.63 506,357.03 506.25,353.93 506.5,354.95 506.75,358.73 507,361.83 507.25,362.82 507.5,362.54 507.75,362.09 508,362.01 508.25,362.3 508.5,362.34 508.75,360.98 509,357.65 509.25,354.26 509.5,354.15 509.75,357.82 510,362.25 510.25,364.95 510.5,365.94 510.75,366.17 511,366.2 511.25,366.3 511.5,366.4 511.75,366.5 512,366.6 512.25,366.7 512.5,366.8 512.75,366.9 513,367 513.25,367 513.5,366.99 513.75,366.97 514,366.92 514.25,366.81 514.5,366.61 514.75,366.29 515,365.86 515.25,365.38 515.5,364.99 515.75,364.81 516,364.89 516.25,365.21 516.5,365.67 516.75,366.12 517,366.49 517.25,366.66 517.5,366.72 517.75,366.7 518,366.65 518.25,366.58 518.5,366.49 518.75,366.37 519,366.2 519.25,365.91 519.5,365.42 519.75,364.72 520,363.89 520.25,363.21 520.5,362.9 520.75,363.09 521,363.65 521.25,364.34 521.5,364.9 521.75,365.24 522,365.39 522.25,365.41 522.5,365.37 522.75,365.28 523,365.14 523.25,364.92 523.5,364.61 523.75,364.19 524,363.73 524.25,363.31 524.5,363.04 524.75,363 525,363.18 525.25,363.49 525.5,363.78 525.75,363.91 526,363.77 526.25,363.35 526.5,362.76 526.75,362.23 527,361.99 527.25,362.16 527.5,362.65 527.75,363.22 528,363.7 528.25,364 528.5,364.13 528.75,364.16 529,364.15 529.25,364.12 529.5,364.08 529.75,364.04 530,364 530.25,364.04 530.5,364.08 530.75,364.11 531,364.1 531.25,363.91 531.5,363.23 531.75,361.6 532,358.77 532.25,355.43 532.5,353.21 532.75,353.53 533,356.2 533.25,359.8 533.5,362.65 533.75,364.31 534,365.11 534.25,365.49 534.5,365.74 534.75,365.96 535,366.17 535.25,366.37 535.5,366.58 535.75,366.79 536,367 536.25,367.09 536.5,367.17 536.75,367.26 537,367.35 537.25,367.44 537.5,367.52 537.75,367.61 538,367.7 538.25,367.79 538.5,367.88 538.75,367.96 539,368.05 539.25,368.14 539.5,368.22 539.75,368.31 540,368.4 540.25,368.41 540.5,368.42 540.75,368.42 541,368.43 541.25,368.44 541.5,368.45 541.75,368.46 542,368.47 542.25,368.47 542.5,368.48 542.75,368.49 543,368.5 543.25,368.51 543.5,368.52 543.75,368.52 544,368.53 544.25,368.54 544.5,368.55 544.75,368.56 545,368.57 545.25,368.57 545.5,368.58 545.75,368.59 546,368.6 546.25,368.61 546.5,368.62 546.75,368.62 547,368.63 547.25,368.64 547.5,368.65 547.75,368.66 548,368.67 548.25,368.67 548.5,368.68 548.75,368.69 549,368.7 549.25,368.71 549.5,368.72 549.75,368.72 550,368.73 550.25,368.74 550.5,368.75 550.75,368.76 551,368.77 551.25,368.77 551.5,368.78 551.75,368.79 552,368.8 552.25,368.81 552.5,368.82 552.75,368.82 553,368.83 553.25,368.84 553.5,368.85 553.75,368.86 554,368.87 554.25,368.88 554.5,368.88 554.75,368.89 555,368.9 555.25,368.91 555.5,368.92 555.75,368.92 556,368.93 556.25,368.94 556.5,368.95 556.75,368.96 557,368.97 557.25,368.97 557.5,368.98 557.75,368.99 558,369 558.25,369.01 558.5,369.02 558.75,369.02 559,369.03 559.25,369.04 559.5,369.05 559.75,369.06 560,369.07 560.25,369.07 560.5,369.08 560.75,369.09 561,369.1 561.25,369.11 561.5,369.12 561.75,369.12 562,369.13 562.25,369.14 562.5,369.15 562.75,369.16 563,369.17 563.25,369.17 563.5,369.18 563.75,369.19 564,369.2 564.25,369.21 564.5,369.22 564.75,369.22 565,369.23 565.25,369.24 565.5,369.25 565.75,369.26 566,369.27 566.25,369.27 566.5,369.28 566.75,369.29 567,369.3 567.25,369.31 567.5,369.32 567.75,369.32 568,369.33 568.25,369.34 568.5,369.35 568.75,369.35 569,369.36 569.25,369.36 569.5,369.35 569.75,369.33 570,369.3 570.25,368.81 570.5,368.29 570.75,367.73 571,367.13 571.25,366.48 571.5,365.8 571.75,365.09 572,364.37 572.25,364.18 572.5,364.04 572.75,363.97 573,364 573.25,364.12 573.5,364.34 573.75,364.63 574,364.97 574.25,365.34 574.5,365.7 574.75,366.03 575,366.33 575.25,366.58 575.5,366.79 575.75,366.96 576,367.1 576.25,367.22 576.5,367.32 576.75,367.41 577,367.49 577.25,367.54 577.5,367.58 577.75,367.62 578,367.66 578.25,367.7 578.5,367.74 578.75,367.78 579,367.81 579.25,367.77 579.5,367.43 579.75,366.15 580,363.01 580.25,357.9 580.5,352.94 580.75,351.51 581,354.78 581.25,360.28 581.5,364.79 581.75,367.17 582,368.06 582.25,368.31 582.5,368.39 582.75,368.43 583,368.47 583.25,368.52 583.5,368.56 583.75,368.6 584,368.64 584.25,368.68 584.5,368.72 584.75,368.76 585,368.8 585.25,368.84 585.5,368.87 585.75,368.91 586,368.94 586.25,368.95 586.5,368.91 586.75,368.77 587,368.43 587.25,367.82 587.5,367.01 587.75,366.2 588,365.73 588.25,365.83 588.5,366.46 588.75,367.37 589,368.22 589.25,368.84 589.5,369.21 589.75,369.4 590,369.49 590.25,369.54 590.5,369.58 590.75,369.62 591,369.66 591.25,369.69 591.5,369.73 591.75,369.76 592,369.8 592.25,369.79 592.5,369.77 592.75,369.76 593,369.75 593.25,369.74 593.5,369.73 593.75,369.71 594,369.7 594.25,369.69 594.5,369.68 594.75,369.66 595,369.65 595.25,369.64 595.5,369.62 595.75,369.61 596,369.6 596.25,369.59 596.5,369.57 596.75,369.56 597,369.55 597.25,369.54 597.5,369.52 597.75,369.51 598,369.5 598.25,369.49 598.5,369.47 598.75,369.46 599,369.45 599.25,369.44 599.5,369.42 599.75,369.41 600,369.4 600.25,369.36 600.5,369.32 600.75,369.28 601,369.24 601.25,369.2 601.5,369.16 601.75,369.11 602,369.01 602.25,368.63 602.5,367.34 602.75,364.07 603,358.33 603.25,352.05 603.5,349.2 603.75,351.97 604,358.17 604.25,363.83 604.5,367.02 604.75,368.23 605,368.53 605.25,368.56 605.5,368.53 605.75,368.49 606,368.44 606.25,368.39 606.5,368.32 606.75,368.16 607,367.83 607.25,367.21 607.5,366.24 607.75,365.03 608,363.91 608.25,363.32 608.5,363.53 608.75,364.4 609,365.55 609.25,366.57 609.5,367.24 609.75,367.59 610,367.7 610.25,367.61 610.5,367.14 610.75,365.7 611,362.18 611.25,355.35 611.5,345.25 611.75,334.48 612,327.68 612.25,328.45 612.5,336.34 612.75,347.24 613,356.72 613.25,362.75 613.5,365.67 613.75,366.77 614,367.07 614.25,367.12 614.5,367.1 614.75,367.06 615,367.02 615.25,366.98 615.5,366.94 615.75,366.9 616,366.86 616.25,366.82 616.5,366.78 616.75,366.74 617,366.7 617.25,366.66 617.5,366.62 617.75,366.58 618,366.54 618.25,366.5 618.5,366.46 618.75,366.42" stroke="#f39a58" stroke-width="0.95" fill="none" stroke-linejoin="round" opacity="1.0"/>
<path d="M478.3,401.5 478.55,401.51 478.8,401.51 479.05,401.52 479.3,401.53 479.55,401.53 479.8,401.54 480.05,401.55 480.3,401.55 480.55,401.56 480.8,401.57 481.05,401.57 481.3,401.58 481.55,401.59 481.8,401.59 482.05,401.6 482.3,401.61 482.55,401.61 482.8,401.62 483.05,401.63 483.3,401.63 483.55,401.64 483.8,401.65 484.05,401.65 484.3,401.66 484.55,401.66 484.8,401.67 485.05,401.68 485.3,401.68 485.55,401.69 485.8,401.7 486.05,401.7 486.3,401.71 486.55,401.72 486.8,401.72 487.05,401.73 487.3,401.74 487.55,401.74 487.8,401.75 488.05,401.76 488.3,401.76 488.55,401.77 488.8,401.78 489.05,401.78 489.3,401.79 489.55,401.8 489.8,401.8 490.05,401.81 490.3,401.82 490.55,401.82 490.8,401.83 491.05,401.84 491.3,401.84 491.55,401.85 491.8,401.86 492.05,401.86 492.3,401.87 492.55,401.88 492.8,401.88 493.05,401.89 493.3,401.9 493.55,401.9 493.8,401.91 494.05,401.92 494.3,401.92 494.55,401.93 494.8,401.94 495.05,401.94 495.3,401.95 495.55,401.96 495.8,401.96 496.05,401.97 496.3,401.97 496.55,401.98 496.8,401.99 497.05,401.99 497.3,402 497.55,402.01 497.8,402.01 498.05,402.02 498.3,402.03 498.55,402.03 498.8,402.04 499.05,402.05 499.3,402.05 499.55,402.06 499.8,402.07 500.05,402.07 500.3,402.08 500.55,402.09 500.8,402.09 501.05,402.1 501.3,402.11 501.55,402.11 501.8,402.12 502.05,402.13 502.3,402.13 502.55,402.14 502.8,402.15 503.05,402.15 503.3,402.16 503.55,402.17 503.8,402.17 504.05,402.18 504.3,402.19 504.55,402.19 504.8,402.2 505.05,402.21 505.3,402.21 505.55,402.22 505.8,402.23 506.05,402.23 506.3,402.24 506.55,402.25 506.8,402.25 507.05,402.26 507.3,402.26 507.55,402.27 507.8,402.28 508.05,402.28 508.3,402.29 508.55,402.3 508.8,402.3 509.05,402.31 509.3,402.32 509.55,402.32 509.8,402.33 510.05,402.34 510.3,402.34 510.55,402.35 510.8,402.36 511.05,402.36 511.3,402.37 511.55,402.38 511.8,402.38 512.05,402.39 512.3,402.4 512.55,402.4 512.8,402.41 513.05,402.42 513.3,402.42 513.55,402.43 513.8,402.44 514.05,402.44 514.3,402.45 514.55,402.46 514.8,402.46 515.05,402.47 515.3,402.48 515.55,402.48 515.8,402.49 516.05,402.5 516.3,402.5 516.55,402.51 516.8,402.52 517.05,402.52 517.3,402.53 517.55,402.54 517.8,402.54 518.05,402.55 518.3,402.56 518.55,402.56 518.8,402.57 519.05,402.57 519.3,402.58 519.55,402.59 519.8,402.59 520.05,402.6 520.3,402.6 520.55,402.61 520.8,402.61 521.05,402.62 521.3,402.62 521.55,402.62 521.8,402.63 522.05,402.63 522.3,402.63 522.55,402.64 522.8,402.64 523.05,402.65 523.3,402.65 523.55,402.65 523.8,402.66 524.05,402.66 524.3,402.66 524.55,402.67 524.8,402.67 525.05,402.68 525.3,402.68 525.55,402.68 525.8,402.69 526.05,402.69 526.3,402.69 526.55,402.7 526.8,402.7 527.05,402.71 527.3,402.71 527.55,402.71 527.8,402.72 528.05,402.72 528.3,402.72 528.55,402.73 528.8,402.73 529.05,402.74 529.3,402.74 529.55,402.74 529.8,402.75 530.05,402.75 530.3,402.75 530.55,402.76 530.8,402.76 531.05,402.77 531.3,402.77 531.55,402.77 531.8,402.78 532.05,402.78 532.3,402.78 532.55,402.79 532.8,402.79 533.05,402.8 533.3,402.8 533.55,402.8 533.8,402.81 534.05,402.81 534.3,402.81 534.55,402.82 534.8,402.82 535.05,402.83 535.3,402.83 535.55,402.83 535.8,402.84 536.05,402.84 536.3,402.84 536.55,402.85 536.8,402.85 537.05,402.86 537.3,402.86 537.55,402.86 537.8,402.87 538.05,402.87 538.3,402.87 538.55,402.88 538.8,402.88 539.05,402.89 539.3,402.89 539.55,402.89 539.8,402.9 540.05,402.9 540.3,402.9 540.55,402.91 540.8,402.91 541.05,402.92 541.3,402.92 541.55,402.92 541.8,402.93 542.05,402.93 542.3,402.93 542.55,402.94 542.8,402.94 543.05,402.95 543.3,402.95 543.55,402.95 543.8,402.96 544.05,402.96 544.3,402.96 544.55,402.97 544.8,402.97 545.05,402.98 545.3,402.98 545.55,402.98 545.8,402.99 546.05,402.99 546.3,402.99 546.55,403 546.8,403 547.05,403.01 547.3,403.01 547.55,403.01 547.8,403.02 548.05,403.02 548.3,403.02 548.55,403.03 548.8,403.03 549.05,403.04 549.3,403.04 549.55,403.04 549.8,403.05 550.05,403.05 550.3,403.05 550.55,403.06 550.8,403.06 551.05,403.07 551.3,403.07 551.55,403.07 551.8,403.08 552.05,403.08 552.3,403.08 552.55,403.09 552.8,403.09 553.05,403.1 553.3,403.1 553.55,403.1 553.8,403.11 554.05,403.11 554.3,403.11 554.55,403.12 554.8,403.12 555.05,403.13 555.3,403.13 555.55,403.13 555.8,403.14 556.05,403.14 556.3,403.14 556.55,403.15 556.8,403.15 557.05,403.16 557.3,403.16 557.55,403.16 557.8,403.17 558.05,403.17 558.3,403.17 558.55,403.18 558.8,403.18 559.05,403.19 559.3,403.19 559.55,403.19 559.8,403.2 560.05,403.2 560.3,403.19 560.55,403.18 560.8,403.17 561.05,403.16 561.3,403.15 561.55,403.15 561.8,403.14 562.05,403.13 562.3,403.12 562.55,403.11 562.8,403.1 563.05,403.09 563.3,403.08 563.55,403.08 563.8,403.07 564.05,403.06 564.3,403.05 564.55,403.04 564.8,403.03 565.05,403.02 565.3,403.01 565.55,403.01 565.8,403 566.05,402.99 566.3,402.98 566.55,402.97 566.8,402.96 567.05,402.95 567.3,402.94 567.55,402.94 567.8,402.93 568.05,402.92 568.3,402.91 568.55,402.9 568.8,402.89 569.05,402.88 569.3,402.87 569.55,402.87 569.8,402.86 570.05,402.85 570.3,402.84 570.55,402.83 570.8,402.82 571.05,402.81 571.3,402.8 571.55,402.8 571.8,402.79 572.05,402.78 572.3,402.77 572.55,402.76 572.8,402.75 573.05,402.74 573.3,402.73 573.55,402.73 573.8,402.72 574.05,402.71 574.3,402.7 574.55,402.69 574.8,402.68 575.05,402.67 575.3,402.66 575.55,402.66 575.8,402.65 576.05,402.64 576.3,402.63 576.55,402.62 576.8,402.61 577.05,402.6 577.3,402.59 577.55,402.59 577.8,402.58 578.05,402.57 578.3,402.56 578.55,402.55 578.8,402.54 579.05,402.53 579.3,402.52 579.55,402.52 579.8,402.51 580.05,402.5 580.3,402.49 580.55,402.48 580.8,402.47 581.05,402.46 581.3,402.45 581.55,402.45 581.8,402.44 582.05,402.43 582.3,402.42 582.55,402.41 582.8,402.4 583.05,402.39 583.3,402.38 583.55,402.38 583.8,402.37 584.05,402.36 584.3,402.35 584.55,402.34 584.8,402.33 585.05,402.32 585.3,402.31 585.55,402.31 585.8,402.3 586.05,402.29 586.3,402.28 586.55,402.27 586.8,402.26 587.05,402.25 587.3,402.24 587.55,402.24 587.8,402.23 588.05,402.22 588.3,402.21 588.55,402.2 588.8,402.19 589.05,402.18 589.3,402.17 589.55,402.17 589.8,402.16 590.05,402.15 590.3,402.14 590.55,402.13 590.8,402.12 591.05,402.11 591.3,402.1 591.55,402.1 591.8,402.09 592.05,402.08 592.3,402.07 592.55,402.06 592.8,402.05 593.05,402.04 593.3,402.03 593.55,402.03 593.8,402.02 594.05,402.01 594.3,402 594.55,401.99 594.8,401.98 595.05,401.97 595.3,401.96 595.55,401.96 595.8,401.95 596.05,401.94 596.3,401.93 596.55,401.92 596.8,401.91 597.05,401.9 597.3,401.89 597.55,401.89 597.8,401.88 598.05,401.87 598.3,401.86 598.55,401.85 598.8,401.84 599.05,401.82 599.3,401.75 599.55,401.55 599.8,401 600.05,399.85 600.3,397.93 600.55,395.58 600.8,393.66 601.05,393.14 601.3,394.3 601.55,396.51 601.8,398.76 602.05,400.36 602.3,401.23 602.55,401.6 602.8,401.72 603.05,401.74 603.3,401.75 603.55,401.74 603.8,401.74 604.05,401.73 604.3,401.72 604.55,401.69 604.8,401.63 605.05,401.52 605.3,401.36 605.55,401.18 605.8,401.04 606.05,401 606.3,401.08 606.55,401.23 606.8,401.4 607.05,401.54 607.3,401.62 607.55,401.66 607.8,401.67 608.05,401.67 608.3,401.67 608.55,401.67 608.8,401.66 609.05,401.66 609.3,401.66 609.55,401.65 609.8,401.65 610.05,401.64 610.3,401.63 610.55,401.56 610.8,401.26 611.05,400.24 611.3,397.77 611.55,393.79 611.8,389.92 612.05,388.78 612.3,391.27 612.55,395.49 612.8,398.94 613.05,400.75 613.3,401.39 613.55,401.56 613.8,401.58 614.05,401.58 614.3,401.58 614.55,401.57 614.8,401.57 615.05,401.57 615.3,401.56 615.55,401.56 615.8,401.55 616.05,401.55 616.3,401.55 616.55,401.54 616.8,401.54 617.05,401.53 617.3,401.53 617.55,401.53 617.8,401.52 618.05,401.52 618.3,401.52 618.55,401.51 618.8,401.51 619.05,401.5 619.3,401.5" stroke="#f39a58" stroke-width="0.95" fill="none" stroke-linejoin="round" opacity="1.0"/>
<path d="M633.2,301.4 633.45,301.4 633.7,301.4 633.95,301.4 634.2,301.4 634.45,301.4 634.7,301.4 634.95,301.4 635.2,301.4 635.45,301.4 635.7,301.4 635.95,301.4 636.2,301.4 636.45,301.4 636.7,301.4 636.95,301.4 637.2,301.4 637.45,301.4 637.7,301.4 637.95,301.4 638.2,301.4 638.45,301.4 638.7,301.4 638.95,301.4 639.2,301.4 639.45,301.4 639.7,301.4 639.95,301.4 640.2,301.4 640.45,301.4 640.7,301.4 640.95,301.4 641.2,301.4 641.45,301.4 641.7,301.4 641.95,301.4 642.2,301.4 642.45,301.4 642.7,301.4 642.95,301.4 643.2,301.4 643.45,301.4 643.7,301.4 643.95,301.4 644.2,301.4 644.45,301.4 644.7,301.4 644.95,301.4 645.2,301.4 645.45,301.4 645.7,301.4 645.95,301.4 646.2,301.4 646.45,301.4 646.7,301.4 646.95,301.4 647.2,301.4 647.45,301.4 647.7,301.4 647.95,301.4 648.2,301.4 648.45,301.4 648.7,301.4 648.95,301.4 649.2,301.4 649.45,301.4 649.7,301.4 649.95,301.4 650.2,301.4 650.45,301.4 650.7,301.4 650.95,301.4 651.2,301.4 651.45,301.4 651.7,301.4 651.95,301.4 652.2,301.4 652.45,301.4 652.7,301.4 652.95,301.4 653.2,301.4 653.45,301.4 653.7,301.4 653.95,301.4 654.2,301.4 654.45,301.4 654.7,301.4 654.95,301.4 655.2,301.4 655.45,301.4 655.7,301.4 655.95,301.4 656.2,301.4 656.45,301.4 656.7,301.4 656.95,301.4 657.2,301.4 657.45,301.4 657.7,301.4 657.95,301.4 658.2,301.4 658.45,301.4 658.7,301.4 658.95,301.4 659.2,301.4 659.45,301.4 659.7,301.4 659.95,301.4 660.2,301.4 660.45,301.4 660.7,301.4 660.95,301.4 661.2,301.4 661.45,301.4 661.7,301.4 661.95,301.4 662.2,301.4 662.45,301.4 662.7,301.4 662.95,301.4 663.2,301.4 663.45,301.4 663.7,301.4 663.95,301.4 664.2,301.4 664.45,301.4 664.7,301.4 664.95,301.4 665.2,301.39 665.45,301.31 665.7,300.89 665.95,299.22 666.2,294.58 666.45,285.71 666.7,274.88 666.95,268.46 667.2,271.29 667.45,281.02 667.7,290.91 667.95,296.78 668.2,298.93 668.45,299.37 668.7,299.5 668.95,299.79 669.2,300.25 669.45,300.7 669.7,301.05 669.95,301.25 670.2,301.35 670.45,301.38 670.7,301.4 670.95,301.4 671.2,301.4 671.45,301.4 671.7,301.4 671.95,301.4 672.2,301.4 672.45,301.4 672.7,301.4 672.95,301.4 673.2,301.4 673.45,301.4 673.7,301.4 673.95,301.4 674.2,301.4 674.45,301.4 674.7,301.4 674.95,301.4 675.2,301.4 675.45,301.4 675.7,301.4 675.95,301.4 676.2,301.4 676.45,301.4 676.7,301.4 676.95,301.4 677.2,301.4 677.45,301.4 677.7,301.4 677.95,301.4 678.2,301.4 678.45,301.4 678.7,301.4 678.95,301.4 679.2,301.4 679.45,301.4 679.7,301.4 679.95,301.4 680.2,301.4 680.45,301.4" stroke="#f7bb8c" stroke-width="0.9" fill="none" stroke-linejoin="round" opacity="1.0"/>
<path d="M633.2,326.1 633.45,326.1 633.7,326.1 633.95,326.1 634.2,326.1 634.45,326.1 634.7,326.1 634.95,326.1 635.2,326.1 635.45,326.1 635.7,326.1 635.95,326.1 636.2,326.1 636.45,326.1 636.7,326.1 636.95,326.1 637.2,326.1 637.45,326.1 637.7,326.1 637.95,326.1 638.2,326.1 638.45,326.1 638.7,326.1 638.95,326.1 639.2,326.1 639.45,326.1 639.7,326.1 639.95,326.1 640.2,326.1 640.45,326.1 640.7,326.1 640.95,326.1 641.2,326.1 641.45,326.1 641.7,326.1 641.95,326.1 642.2,326.1 642.45,326.1 642.7,326.1 642.95,326.1 643.2,326.1 643.45,326.1 643.7,326.1 643.95,326.1 644.2,326.1 644.45,326.1 644.7,326.1 644.95,326.1 645.2,326.1 645.45,326.1 645.7,326.1 645.95,326.1 646.2,326.1 646.45,326.1 646.7,326.1 646.95,326.1 647.2,326.1 647.45,326.1 647.7,326.1 647.95,326.1 648.2,326.1 648.45,326.1 648.7,326.1 648.95,326.1 649.2,326.1 649.45,326.1 649.7,326.1 649.95,326.1 650.2,326.1 650.45,326.1 650.7,326.1 650.95,326.1 651.2,326.1 651.45,326.1 651.7,326.1 651.95,326.1 652.2,326.1 652.45,326.1 652.7,326.1 652.95,326.1 653.2,326.1 653.45,326.1 653.7,326.1 653.95,326.1 654.2,326.1 654.45,326.1 654.7,326.1 654.95,326.1 655.2,326.1 655.45,326.1 655.7,326.1 655.95,326.1 656.2,326.1 656.45,326.1 656.7,326.1 656.95,326.1 657.2,326.1 657.45,326.1 657.7,326.1 657.95,326.1 658.2,326.1 658.45,326.1 658.7,326.1 658.95,326.1 659.2,326.1 659.45,326.1 659.7,326.1 659.95,326.1 660.2,326.1 660.45,326.1 660.7,326.1 660.95,326.1 661.2,326.1 661.45,326.1 661.7,326.1 661.95,326.1 662.2,326.1 662.45,326.1 662.7,326.1 662.95,326.1 663.2,326.1 663.45,326.1 663.7,326.1 663.95,326.1 664.2,326.1 664.45,326.1 664.7,326.1 664.95,326.1 665.2,326.09 665.45,326.04 665.7,325.76 665.95,324.65 666.2,321.57 666.45,315.67 666.7,308.47 666.95,304.2 667.2,306.06 667.45,312.5 667.7,319.02 667.95,322.84 668.2,324.19 668.45,324.43 668.7,324.5 668.95,324.75 669.2,325.13 669.45,325.51 669.7,325.8 669.95,325.97 670.2,326.05 670.45,326.09 670.7,326.1 670.95,326.1 671.2,326.1 671.45,326.1 671.7,326.1 671.95,326.1 672.2,326.1 672.45,326.1 672.7,326.1 672.95,326.1 673.2,326.1 673.45,326.1 673.7,326.1 673.95,326.1 674.2,326.1 674.45,326.1 674.7,326.1 674.95,326.1 675.2,326.1 675.45,326.1 675.7,326.1 675.95,326.1 676.2,326.1 676.45,326.1 676.7,326.1 676.95,326.1 677.2,326.1 677.45,326.1 677.7,326.1 677.95,326.1 678.2,326.1 678.45,326.1 678.7,326.1 678.95,326.1 679.2,326.1 679.45,326.1 679.7,326.1 679.95,326.1 680.2,326.1 680.45,326.1" stroke="#f7bb8c" stroke-width="0.9" fill="none" stroke-linejoin="round" opacity="1.0"/>
<path d="M633.4,366 633.65,366 633.9,366 634.15,366 634.4,366 634.65,366 634.9,366 635.15,366 635.4,366 635.65,366 635.9,366 636.15,366 636.4,366 636.65,366 636.9,366 637.15,366 637.4,366 637.65,366 637.9,366 638.15,366 638.4,366 638.65,366 638.9,366 639.15,366 639.4,366 639.65,366 639.9,366 640.15,366 640.4,366 640.65,366 640.9,366 641.15,366 641.4,366 641.65,366 641.9,366 642.15,366 642.4,366 642.65,366 642.9,366 643.15,366 643.4,366 643.65,366 643.9,366 644.15,366 644.4,366 644.65,366 644.9,366 645.15,366 645.4,366 645.65,366 645.9,366 646.15,366 646.4,366 646.65,366 646.9,366 647.15,365.99 647.4,365.98 647.65,365.96 647.9,365.92 648.15,365.85 648.4,365.73 648.65,365.58 648.9,365.39 649.15,365.21 649.4,365.07 649.65,365 649.9,365.03 650.15,365.15 650.4,365.32 650.65,365.51 650.9,365.68 651.15,365.81 651.4,365.9 651.65,365.95 651.9,365.98 652.15,365.99 652.4,366 652.65,366 652.9,366 653.15,366 653.4,366 653.65,366 653.9,366 654.15,366 654.4,366 654.65,366 654.9,366 655.15,366 655.4,366 655.65,366 655.9,366 656.15,366 656.4,366 656.65,366 656.9,366 657.15,366 657.4,366 657.65,366 657.9,366 658.15,366 658.4,366 658.65,366 658.9,366 659.15,366 659.4,366 659.65,366 659.9,366 660.15,366 660.4,366 660.65,366 660.9,366 661.15,366 661.4,366 661.65,366 661.9,366 662.15,366 662.4,366 662.65,366 662.9,366 663.15,366 663.4,366 663.65,366 663.9,366 664.15,366 664.4,366 664.65,365.96 664.9,365.79 665.15,365.11 665.4,363.2 665.65,359.55 665.9,355.1 666.15,352.45 666.4,353.58 666.65,357.51 666.9,361.46 667.15,363.7 667.4,364.41 667.65,364.47 667.9,364.51 668.15,364.73 668.4,365.09 668.65,365.45 668.9,365.72 669.15,365.88 669.4,365.96 669.65,365.99 669.9,366 670.15,366 670.4,366 670.65,366 670.9,366 671.15,366 671.4,366 671.65,366 671.9,366 672.15,366 672.4,366 672.65,366 672.9,366 673.15,366 673.4,366 673.65,366 673.9,366 674.15,366 674.4,366 674.65,366 674.9,366 675.15,366 675.4,366 675.65,366 675.9,366 676.15,366 676.4,366 676.65,366 676.9,366 677.15,366 677.4,366 677.65,366 677.9,366 678.15,366 678.4,366 678.65,366 678.9,366 679.15,366 679.4,366 679.65,366 679.9,366 680.15,366" stroke="#f7bb8c" stroke-width="0.9" fill="none" stroke-linejoin="round" opacity="1.0"/>
<path d="M633.4,401.8 633.65,401.8 633.9,401.8 634.15,401.8 634.4,401.8 634.65,401.8 634.9,401.8 635.15,401.8 635.4,401.8 635.65,401.8 635.9,401.8 636.15,401.8 636.4,401.8 636.65,401.8 636.9,401.8 637.15,401.8 637.4,401.8 637.65,401.8 637.9,401.8 638.15,401.8 638.4,401.8 638.65,401.8 638.9,401.8 639.15,401.8 639.4,401.8 639.65,401.8 639.9,401.8 640.15,401.8 640.4,401.8 640.65,401.8 640.9,401.8 641.15,401.8 641.4,401.8 641.65,401.8 641.9,401.8 642.15,401.8 642.4,401.8 642.65,401.8 642.9,401.8 643.15,401.8 643.4,401.8 643.65,401.8 643.9,401.8 644.15,401.8 644.4,401.8 644.65,401.8 644.9,401.8 645.15,401.8 645.4,401.8 645.65,401.8 645.9,401.8 646.15,401.8 646.4,401.8 646.65,401.8 646.9,401.8 647.15,401.8 647.4,401.8 647.65,401.8 647.9,401.8 648.15,401.8 648.4,401.8 648.65,401.8 648.9,401.8 649.15,401.8 649.4,401.8 649.65,401.8 649.9,401.8 650.15,401.8 650.4,401.8 650.65,401.8 650.9,401.8 651.15,401.8 651.4,401.8 651.65,401.8 651.9,401.8 652.15,401.8 652.4,401.8 652.65,401.8 652.9,401.8 653.15,401.8 653.4,401.8 653.65,401.8 653.9,401.8 654.15,401.8 654.4,401.8 654.65,401.8 654.9,401.8 655.15,401.8 655.4,401.8 655.65,401.8 655.9,401.8 656.15,401.8 656.4,401.8 656.65,401.8 656.9,401.8 657.15,401.8 657.4,401.8 657.65,401.8 657.9,401.8 658.15,401.8 658.4,401.8 658.65,401.8 658.9,401.8 659.15,401.8 659.4,401.8 659.65,401.8 659.9,401.8 660.15,401.8 660.4,401.8 660.65,401.8 660.9,401.8 661.15,401.8 661.4,401.8 661.65,401.8 661.9,401.8 662.15,401.8 662.4,401.8 662.65,401.8 662.9,401.8 663.15,401.8 663.4,401.8 663.65,401.8 663.9,401.8 664.15,401.8 664.4,401.79 664.65,401.71 664.9,401.29 665.15,399.64 665.4,395.02 665.65,386.21 665.9,375.44 666.15,369.06 666.4,371.88 666.65,381.56 666.9,391.4 667.15,397.26 667.4,399.42 667.65,399.87 667.9,400 668.15,400.28 668.4,400.71 668.65,401.14 668.9,401.46 669.15,401.66 669.4,401.75 669.65,401.78 669.9,401.8 670.15,401.8 670.4,401.8 670.65,401.8 670.9,401.8 671.15,401.8 671.4,401.8 671.65,401.8 671.9,401.8 672.15,401.8 672.4,401.8 672.65,401.8 672.9,401.8 673.15,401.8 673.4,401.8 673.65,401.8 673.9,401.8 674.15,401.8 674.4,401.8 674.65,401.8 674.9,401.8 675.15,401.8 675.4,401.8 675.65,401.8 675.9,401.8 676.15,401.8 676.4,401.8 676.65,401.8 676.9,401.8 677.15,401.8 677.4,401.8 677.65,401.8 677.9,401.8 678.15,401.8 678.4,401.8 678.65,401.8 678.9,401.8 679.15,401.8 679.4,401.8 679.65,401.8 679.9,401.8 680.15,401.8" stroke="#f7bb8c" stroke-width="0.9" fill="none" stroke-linejoin="round" opacity="1.0"/>
<text x="649.5" y="276.6" font-size="7" text-anchor="start" fill="#1e1e1e" class="sm"  style="">BR</text>
<line x1="658.8" y1="277.0" x2="663.0" y2="279.6" stroke="#e8202a" stroke-width="1.1"/>
<polygon points="664.6,280.6 660.9,280.1 662.3,277.8" fill="#e8202a"/>
<line x1="478.3" y1="408.8" x2="619.6" y2="408.8" stroke="#8a8a8a" stroke-width="1.3" />
<line x1="478.3" y1="408.8" x2="478.3" y2="411" stroke="#555" stroke-width="0.9" />
<text x="0" y="0" transform="translate(478.3 418.4) scale(1 1.1)" font-size="7.3" text-anchor="middle" fill="#1e1e1e" class="sm"  style="">10</text>
<line x1="498.44" y1="408.8" x2="498.44" y2="411" stroke="#555" stroke-width="0.9" />
<text x="0" y="0" transform="translate(498.44 418.4) scale(1 1.1)" font-size="7.3" text-anchor="middle" fill="#1e1e1e" class="sm"  style="">15</text>
<line x1="518.57" y1="408.8" x2="518.57" y2="411" stroke="#555" stroke-width="0.9" />
<text x="0" y="0" transform="translate(518.57 418.4) scale(1 1.1)" font-size="7.3" text-anchor="middle" fill="#1e1e1e" class="sm"  style="">20</text>
<line x1="538.71" y1="408.8" x2="538.71" y2="411" stroke="#555" stroke-width="0.9" />
<text x="0" y="0" transform="translate(538.71 418.4) scale(1 1.1)" font-size="7.3" text-anchor="middle" fill="#1e1e1e" class="sm"  style="">25</text>
<line x1="558.84" y1="408.8" x2="558.84" y2="411" stroke="#555" stroke-width="0.9" />
<text x="0" y="0" transform="translate(558.84 418.4) scale(1 1.1)" font-size="7.3" text-anchor="middle" fill="#1e1e1e" class="sm"  style="">30</text>
<line x1="578.98" y1="408.8" x2="578.98" y2="411" stroke="#555" stroke-width="0.9" />
<text x="0" y="0" transform="translate(578.98 418.4) scale(1 1.1)" font-size="7.3" text-anchor="middle" fill="#1e1e1e" class="sm"  style="">35</text>
<line x1="599.11" y1="408.8" x2="599.11" y2="411" stroke="#555" stroke-width="0.9" />
<text x="0" y="0" transform="translate(599.11 418.4) scale(1 1.1)" font-size="7.3" text-anchor="middle" fill="#1e1e1e" class="sm"  style="">40</text>
<line x1="619.25" y1="408.8" x2="619.25" y2="411" stroke="#555" stroke-width="0.9" />
<text x="0" y="0" transform="translate(619.25 418.4) scale(1 1.1)" font-size="7.3" text-anchor="middle" fill="#1e1e1e" class="sm"  style="">45</text>
<line x1="488.37" y1="408.8" x2="488.37" y2="410.1" stroke="#555" stroke-width="0.8" />
<line x1="508.5" y1="408.8" x2="508.5" y2="410.1" stroke="#555" stroke-width="0.8" />
<line x1="528.64" y1="408.8" x2="528.64" y2="410.1" stroke="#555" stroke-width="0.8" />
<line x1="548.77" y1="408.8" x2="548.77" y2="410.1" stroke="#555" stroke-width="0.8" />
<line x1="568.91" y1="408.8" x2="568.91" y2="410.1" stroke="#555" stroke-width="0.8" />
<line x1="589.04" y1="408.8" x2="589.04" y2="410.1" stroke="#555" stroke-width="0.8" />
<line x1="609.18" y1="408.8" x2="609.18" y2="410.1" stroke="#555" stroke-width="0.8" />
<line x1="633.9" y1="408.8" x2="680.8" y2="408.8" stroke="#8a8a8a" stroke-width="1.3" />
<line x1="633.9" y1="408.8" x2="633.9" y2="411" stroke="#555" stroke-width="0.9" />
<text x="0" y="0" transform="translate(633.9 418.4) scale(1 1.1)" font-size="7.3" text-anchor="middle" fill="#1e1e1e" class="sm"  style="">45</text>
<line x1="649.53" y1="408.8" x2="649.53" y2="411" stroke="#555" stroke-width="0.9" />
<text x="0" y="0" transform="translate(649.53 418.4) scale(1 1.1)" font-size="7.3" text-anchor="middle" fill="#1e1e1e" class="sm"  style="">50</text>
<line x1="665.17" y1="408.8" x2="665.17" y2="411" stroke="#555" stroke-width="0.9" />
<text x="0" y="0" transform="translate(665.17 418.4) scale(1 1.1)" font-size="7.3" text-anchor="middle" fill="#1e1e1e" class="sm"  style="">55</text>
<line x1="680.8" y1="408.8" x2="680.8" y2="411" stroke="#555" stroke-width="0.9" />
<text x="0" y="0" transform="translate(680.8 418.4) scale(1 1.1)" font-size="7.3" text-anchor="middle" fill="#1e1e1e" class="sm"  style="">60</text>
<line x1="641.72" y1="408.8" x2="641.72" y2="410.1" stroke="#555" stroke-width="0.8" />
<line x1="657.35" y1="408.8" x2="657.35" y2="410.1" stroke="#555" stroke-width="0.8" />
<line x1="672.99" y1="408.8" x2="672.99" y2="410.1" stroke="#555" stroke-width="0.8" />
<text x="572.7" y="430.2" font-size="8.4" text-anchor="middle" fill="#1e1e1e" class="sm"  style="">Retention time (min)</text>
</svg>
</body></html>
